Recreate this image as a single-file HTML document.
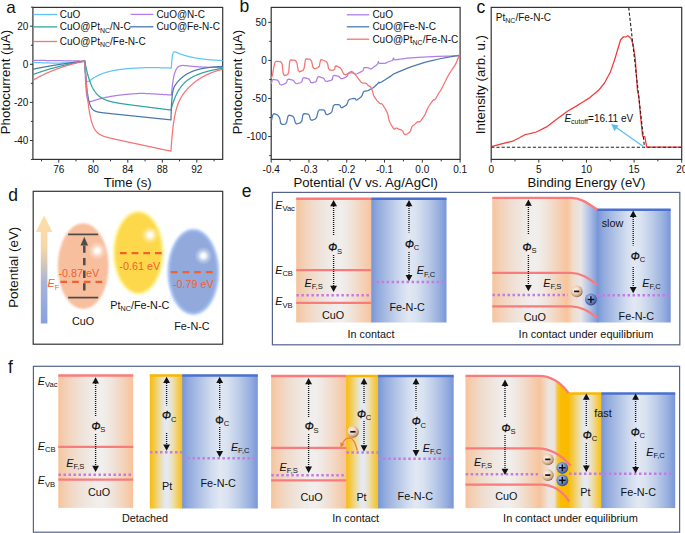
<!DOCTYPE html>
<html><head><meta charset="utf-8"><style>
html,body{margin:0;padding:0;background:#fff;}
svg{display:block;}
text{font-family:"Liberation Sans", sans-serif;}
</style></head><body>
<svg width="685" height="533" viewBox="0 0 685 533" fill="#111">
<rect width="685" height="533" fill="#fff"/>
<defs>
<linearGradient id="gCuO" x1="0" x2="1" y1="0" y2="0"><stop offset="0" stop-color="#f6c39b"/><stop offset="0.07" stop-color="#f4cdae"/><stop offset="0.2" stop-color="#f1dac9"/><stop offset="0.35" stop-color="#efe5dd"/><stop offset="0.5" stop-color="#f0edeb"/><stop offset="0.58" stop-color="#f1efee"/><stop offset="0.7" stop-color="#f0e6de"/><stop offset="0.82" stop-color="#f2d9c5"/><stop offset="0.93" stop-color="#f6cbab"/><stop offset="1" stop-color="#f8c39a"/></linearGradient>
<linearGradient id="gFe" x1="0" x2="1" y1="0" y2="0"><stop offset="0" stop-color="#7596d8"/><stop offset="0.08" stop-color="#90a9dd"/><stop offset="0.25" stop-color="#b4c5e6"/><stop offset="0.4" stop-color="#d2ddef"/><stop offset="0.5" stop-color="#e2e8f3"/><stop offset="0.6" stop-color="#d8e2f0"/><stop offset="0.75" stop-color="#bccbe8"/><stop offset="0.9" stop-color="#98afdf"/><stop offset="1" stop-color="#7896d8"/></linearGradient>
<linearGradient id="gPt" x1="0" x2="1" y1="0" y2="0"><stop offset="0" stop-color="#f9bc0c"/><stop offset="0.15" stop-color="#f3cb50"/><stop offset="0.3" stop-color="#ecdca0"/><stop offset="0.45" stop-color="#e5e8ee"/><stop offset="0.55" stop-color="#e5e9f1"/><stop offset="0.7" stop-color="#ecdfb0"/><stop offset="0.85" stop-color="#f4cd5a"/><stop offset="1" stop-color="#f9bd0e"/></linearGradient>
<linearGradient id="gTrFe" x1="0" x2="1" y1="0" y2="0"><stop offset="0" stop-color="#f8c39a"/><stop offset="0.2" stop-color="#f0dccc"/><stop offset="0.45" stop-color="#e8e6e6"/><stop offset="0.7" stop-color="#b4c4e6"/><stop offset="1" stop-color="#7596d8"/></linearGradient>
<linearGradient id="gTrPt" x1="0" x2="1" y1="0" y2="0"><stop offset="0" stop-color="#f8c39a"/><stop offset="0.33" stop-color="#ebe7e4"/><stop offset="0.5" stop-color="#ece3d6"/><stop offset="0.6" stop-color="#f8c63a"/><stop offset="0.72" stop-color="#fabc00"/><stop offset="1" stop-color="#f9b900"/></linearGradient>
<linearGradient id="gArrow" x1="0" x2="0" y1="0" y2="1"><stop offset="0" stop-color="#fedfa8"/><stop offset="0.3" stop-color="#f6d7a9"/><stop offset="0.47" stop-color="#cdc5bd"/><stop offset="0.62" stop-color="#a8b5d8"/><stop offset="1" stop-color="#87a1de"/></linearGradient>
<radialGradient id="gMinus" cx="0.4" cy="0.38" r="0.64"><stop offset="0" stop-color="#fdf4ec"/><stop offset="0.5" stop-color="#efd3b9"/><stop offset="0.85" stop-color="#c29a7a"/><stop offset="1" stop-color="#7a5a48"/></radialGradient>
<radialGradient id="gPlus" cx="0.4" cy="0.38" r="0.64"><stop offset="0" stop-color="#bccdf2"/><stop offset="0.5" stop-color="#7591d2"/><stop offset="0.85" stop-color="#4a64a8"/><stop offset="1" stop-color="#2a3a66"/></radialGradient>
<radialGradient id="gHi" cx="0.5" cy="0.5" r="0.5"><stop offset="0" stop-color="#fff" stop-opacity="1"/><stop offset="0.25" stop-color="#fff" stop-opacity="0.9"/><stop offset="0.6" stop-color="#fff" stop-opacity="0.35"/><stop offset="1" stop-color="#fff" stop-opacity="0"/></radialGradient>
<filter id="fBlur" x="-20%" y="-20%" width="140%" height="140%"><feGaussianBlur stdDeviation="1.1"/></filter>
<filter id="fBlur2" x="-20%" y="-20%" width="140%" height="140%"><feGaussianBlur stdDeviation="0.8"/></filter>
<radialGradient id="gEllO" cx="0.5" cy="0.5" r="0.5"><stop offset="0.85" stop-color="#f8bd9d"/><stop offset="1" stop-color="#f8bd9d" stop-opacity="0"/></radialGradient>
<radialGradient id="gEllY" cx="0.5" cy="0.5" r="0.5"><stop offset="0.88" stop-color="#ffdc52"/><stop offset="0.93" stop-color="#fff28c"/><stop offset="1" stop-color="#fff8b0" stop-opacity="0"/></radialGradient>
<radialGradient id="gEllB" cx="0.5" cy="0.5" r="0.5"><stop offset="0.88" stop-color="#93aadd"/><stop offset="0.94" stop-color="#a6c0f2"/><stop offset="1" stop-color="#b0c8f5" stop-opacity="0"/></radialGradient>
</defs>
<text x="8.2" y="200.5" font-size="17.5">d</text>
<rect x="33.2" y="191.3" width="189.5" height="152.9" fill="none" stroke="#333" stroke-width="1.2"/>
<text transform="translate(18.2,267.3) rotate(-90)" font-size="13.4" text-anchor="middle">Potential (eV)</text>
<path d="M44.1 215.2 L52.3 232 L47.4 232 L47.4 323.6 L40.8 323.6 L40.8 232 L35.9 232 Z" fill="url(#gArrow)"/>
<ellipse cx="83.2" cy="266.1" rx="25.4" ry="42.9" fill="#f8bf9f" filter="url(#fBlur)"/>
<ellipse cx="97.2" cy="250.8" rx="9" ry="9" fill="url(#gHi)"/>
<ellipse cx="138.3" cy="252.6" rx="25.7" ry="42.1" fill="#fff6a4" filter="url(#fBlur2)"/>
<ellipse cx="138.3" cy="252.6" rx="23.4" ry="39.8" fill="#fdd84c" filter="url(#fBlur2)"/>
<ellipse cx="150" cy="235" rx="9" ry="9" fill="url(#gHi)"/>
<ellipse cx="193.3" cy="271.9" rx="25.9" ry="43.1" fill="#abc5f8" filter="url(#fBlur2)"/>
<ellipse cx="193.3" cy="271.9" rx="23.6" ry="40.8" fill="#92a9dc" filter="url(#fBlur2)"/>
<ellipse cx="203.4" cy="255.8" rx="9" ry="9" fill="url(#gHi)"/>
<line x1="68.1" y1="234.4" x2="98.2" y2="234.4" stroke="#4a4a4a" stroke-width="1.7"/>
<line x1="68.1" y1="297.6" x2="98.2" y2="297.6" stroke="#4a4a4a" stroke-width="1.7"/>
<line x1="84.3" y1="290.5" x2="84.3" y2="244" stroke="#4d4d4d" stroke-width="2.5" stroke-dasharray="7.3 5.3"/>
<path d="M84.3 236.8 L88.1 245.4 L80.5 245.4 Z" fill="#4d4d4d"/>
<line x1="60.4" y1="281.9" x2="102.4" y2="281.9" stroke="#f2602f" stroke-width="2.3" stroke-dasharray="6.7 5"/>
<line x1="119.9" y1="253.2" x2="162.3" y2="253.2" stroke="#f2602f" stroke-width="2.3" stroke-dasharray="6.7 5"/>
<line x1="170.8" y1="272.1" x2="212.6" y2="272.1" stroke="#f2602f" stroke-width="2.3" stroke-dasharray="6.7 5"/>
<text x="58.5" y="277.4" font-size="10.8" fill="#f2602f">-0.87 eV</text>
<text x="119.3" y="269.5" font-size="10.8" fill="#f2602f">-0.61 eV</text>
<text x="173" y="288" font-size="10.8" fill="#f2602f">-0.79 eV</text>
<text x="47.6" y="287.4" font-size="10.8" fill="#f2602f" text-anchor="start"><tspan font-style="italic">E</tspan><tspan font-size="7.6" dy="2.4">F</tspan></text>
<text x="72" y="324.5" font-size="10.8" fill="#111" text-anchor="start">CuO</text>
<text x="110.3" y="309" font-size="10.8" fill="#111">Pt<tspan font-size="7.2" dy="2.4">NC</tspan><tspan dy="-2.4">/Fe-N-C</tspan></text>
<text x="174.2" y="330" font-size="10.8" fill="#111" text-anchor="start">Fe-N-C</text>
<text x="241.8" y="196.8" font-size="17.5">e</text>
<rect x="272.4" y="192.4" width="407.4" height="152.4" fill="none" stroke="#55638c" stroke-width="1.2"/>
<rect x="296.2" y="198.5" width="75.8" height="124" fill="url(#gCuO)"/>
<rect x="371.3" y="198.5" width="75.2" height="124" fill="url(#gFe)"/>
<line x1="296.2" y1="198.7" x2="371.3" y2="198.7" stroke="#fa7b7b" stroke-width="2.5"/>
<line x1="371.3" y1="198.7" x2="446.5" y2="198.7" stroke="#4a70d0" stroke-width="2.5"/>
<line x1="296.2" y1="270.2" x2="371.3" y2="270.2" stroke="#fa7b7b" stroke-width="2.3"/>
<line x1="296.2" y1="302.9" x2="371.3" y2="302.9" stroke="#fa7b7b" stroke-width="2.3"/>
<line x1="296.4" y1="295.3" x2="371" y2="295.3" stroke="#c57ce2" stroke-width="2.5" stroke-dasharray="2.5 2.5"/>
<line x1="371.6" y1="282" x2="444" y2="282" stroke="#c57ce2" stroke-width="2.5" stroke-dasharray="2.5 2.5"/>
<path d="M333.6 199.9 L337 206.2 L330.2 206.2 Z" fill="#111"/>
<line x1="333.6" y1="206" x2="333.6" y2="235.3" stroke="#111" stroke-width="1.35" stroke-dasharray="1 1"/>
<line x1="333.6" y1="255" x2="333.6" y2="286" stroke="#111" stroke-width="1.35" stroke-dasharray="1 1"/>
<path d="M333.6 292 L337 285.7 L330.2 285.7 Z" fill="#111"/>
<text x="328.2" y="251.2" font-size="10.6" fill="#111"><tspan font-style="italic" stroke="#111" stroke-width="0.35">Φ</tspan><tspan font-size="7.6" dy="2.3">S</tspan></text>
<path d="M409 199.9 L412.4 206.2 L405.6 206.2 Z" fill="#111"/>
<line x1="409" y1="206" x2="409" y2="232.5" stroke="#111" stroke-width="1.35" stroke-dasharray="1 1"/>
<line x1="409" y1="252" x2="409" y2="275.2" stroke="#111" stroke-width="1.35" stroke-dasharray="1 1"/>
<path d="M409 281.2 L412.4 274.9 L405.6 274.9 Z" fill="#111"/>
<text x="404.9" y="247.5" font-size="10.6" fill="#111"><tspan font-style="italic" stroke="#111" stroke-width="0.35">Φ</tspan><tspan font-size="7.6" dy="2.3">C</tspan></text>
<text x="275.2" y="209" font-size="10.8" fill="#111" text-anchor="start"><tspan font-style="italic">E</tspan><tspan font-size="7.6" dy="2.4">Vac</tspan></text>
<text x="275.2" y="273.8" font-size="10.8" fill="#111" text-anchor="start"><tspan font-style="italic">E</tspan><tspan font-size="7.6" dy="2.4">CB</tspan></text>
<text x="275.2" y="305.3" font-size="10.8" fill="#111" text-anchor="start"><tspan font-style="italic">E</tspan><tspan font-size="7.6" dy="2.4">VB</tspan></text>
<text x="304.6" y="286.9" font-size="10.8" fill="#111" text-anchor="start"><tspan font-style="italic">E</tspan><tspan font-size="7.6" dy="2.4">F,S</tspan></text>
<text x="416.7" y="274.1" font-size="10.8" fill="#111" text-anchor="start"><tspan font-style="italic">E</tspan><tspan font-size="7.6" dy="2.4">F,C</tspan></text>
<text x="321.9" y="318.6" font-size="10.8" fill="#111" text-anchor="start">CuO</text>
<text x="389.4" y="310.6" font-size="10.8" fill="#111" text-anchor="start">Fe-N-C</text>
<text x="347.6" y="337.7" font-size="10.8" fill="#111" text-anchor="start">In contact</text>
<rect x="492.3" y="197.9" width="75" height="124.6" fill="url(#gCuO)"/>
<path d="M566.8 197.9 L571.5 197.9 C582 197.9 590 205 597.3 209.7 L598.3 209.7 L598.3 322.5 L566.8 322.5 Z" fill="url(#gTrFe)"/>
<rect x="597.3" y="209.5" width="73.4" height="113" fill="url(#gFe)"/>
<path d="M492.3 197.9 L571.5 197.9 C582 197.9 590 205 597.3 209.7" fill="none" stroke="#fa7b7b" stroke-width="2.4"/>
<line x1="597.3" y1="209.7" x2="670.7" y2="209.7" stroke="#4a70d0" stroke-width="2.5"/>
<path d="M492.3 272.8 L571 272.8 C582 272.8 590 279.5 597 284.6" fill="none" stroke="#fa7b7b" stroke-width="2.3"/>
<path d="M492.3 306.3 L571 306.3 C582 306.3 590 312.5 597 317.6" fill="none" stroke="#fa7b7b" stroke-width="2.3"/>
<line x1="492.5" y1="294.9" x2="568" y2="294.9" stroke="#c57ce2" stroke-width="2.5" stroke-dasharray="2.5 2.5"/>
<line x1="597.5" y1="295.3" x2="670" y2="295.3" stroke="#c57ce2" stroke-width="2.5" stroke-dasharray="2.5 2.5"/>
<circle cx="576.7" cy="291.4" r="5.9" fill="url(#gMinus)"/><line x1="574.1" y1="291.4" x2="579.3" y2="291.4" stroke="#111" stroke-width="1.7"/>
<circle cx="590.9" cy="299.5" r="5.9" fill="url(#gPlus)"/><line x1="587.6" y1="299.5" x2="594.2" y2="299.5" stroke="#111" stroke-width="1.5"/><line x1="590.9" y1="296.2" x2="590.9" y2="302.8" stroke="#111" stroke-width="1.5"/>
<path d="M528.4 199.4 L531.8 205.7 L525 205.7 Z" fill="#111"/>
<line x1="528.4" y1="205" x2="528.4" y2="234" stroke="#111" stroke-width="1.35" stroke-dasharray="1 1"/>
<line x1="528.4" y1="255" x2="528.4" y2="285.2" stroke="#111" stroke-width="1.35" stroke-dasharray="1 1"/>
<path d="M528.4 291.2 L531.8 284.9 L525 284.9 Z" fill="#111"/>
<text x="522.6" y="250.8" font-size="10.6" fill="#111"><tspan font-style="italic" stroke="#111" stroke-width="0.35">Φ</tspan><tspan font-size="7.6" dy="2.3">S</tspan></text>
<path d="M633.2 210.6 L636.6 216.9 L629.8 216.9 Z" fill="#111"/>
<line x1="633.2" y1="217" x2="633.2" y2="245.6" stroke="#111" stroke-width="1.35" stroke-dasharray="1 1"/>
<line x1="633.2" y1="267" x2="633.2" y2="287.2" stroke="#111" stroke-width="1.35" stroke-dasharray="1 1"/>
<path d="M633.2 293.2 L636.6 286.9 L629.8 286.9 Z" fill="#111"/>
<text x="630.8" y="259.6" font-size="10.6" fill="#111"><tspan font-style="italic" stroke="#111" stroke-width="0.35">Φ</tspan><tspan font-size="7.6" dy="2.3">C</tspan></text>
<text x="601.7" y="226.7" font-size="10.8" fill="#111" text-anchor="start">slow</text>
<text x="543.2" y="286.8" font-size="10.8" fill="#111" text-anchor="start"><tspan font-style="italic">E</tspan><tspan font-size="7.6" dy="2.4">F,S</tspan></text>
<text x="642.2" y="286.9" font-size="10.8" fill="#111" text-anchor="start"><tspan font-style="italic">E</tspan><tspan font-size="7.6" dy="2.4">F,C</tspan></text>
<text x="523.7" y="321.2" font-size="10.8" fill="#111" text-anchor="start">CuO</text>
<text x="618.6" y="319.6" font-size="10.8" fill="#111" text-anchor="start">Fe-N-C</text>
<text x="518.6" y="337.6" font-size="10.98" fill="#111" text-anchor="start">In contact under equilibrium</text>
<text x="8" y="372.5" font-size="17.5">f</text>
<rect x="33.4" y="366.3" width="646.2" height="165.9" fill="none" stroke="#55638c" stroke-width="1.2"/>
<rect x="58.3" y="375.4" width="74.9" height="132.5" fill="url(#gCuO)"/>
<rect x="149.8" y="374.8" width="33.2" height="133.7" fill="url(#gPt)"/>
<rect x="182.2" y="374.8" width="75.6" height="133.7" fill="url(#gFe)"/>
<line x1="58.3" y1="375.6" x2="133.2" y2="375.6" stroke="#fa7b7b" stroke-width="2.5"/>
<line x1="149.8" y1="375.6" x2="182.2" y2="375.6" stroke="#f9b800" stroke-width="2.5"/>
<line x1="182.2" y1="375.6" x2="257.8" y2="375.6" stroke="#4a70d0" stroke-width="2.5"/>
<line x1="58.3" y1="446.9" x2="133.2" y2="446.9" stroke="#fa7b7b" stroke-width="2.3"/>
<line x1="58.3" y1="479.7" x2="133.2" y2="479.7" stroke="#fa7b7b" stroke-width="2.3"/>
<line x1="58.5" y1="474.7" x2="133" y2="474.7" stroke="#c57ce2" stroke-width="2.5" stroke-dasharray="2.5 2.5"/>
<line x1="150" y1="452.2" x2="182" y2="452.2" stroke="#c57ce2" stroke-width="2.5" stroke-dasharray="2.5 2.5"/>
<line x1="182.4" y1="458.2" x2="256" y2="458.2" stroke="#c57ce2" stroke-width="2.5" stroke-dasharray="2.5 2.5"/>
<path d="M95.6 377.2 L99 383.5 L92.2 383.5 Z" fill="#111"/>
<line x1="95.6" y1="383" x2="95.6" y2="416.4" stroke="#111" stroke-width="1.35" stroke-dasharray="1 1"/>
<line x1="95.6" y1="434" x2="95.6" y2="466.1" stroke="#111" stroke-width="1.35" stroke-dasharray="1 1"/>
<path d="M95.6 472.1 L99 465.8 L92.2 465.8 Z" fill="#111"/>
<text x="91.4" y="429.7" font-size="10.6" fill="#111"><tspan font-style="italic" stroke="#111" stroke-width="0.35">Φ</tspan><tspan font-size="7.6" dy="2.3">S</tspan></text>
<path d="M166.6 376.8 L170 383.1 L163.2 383.1 Z" fill="#111"/>
<line x1="166.6" y1="383" x2="166.6" y2="405.6" stroke="#111" stroke-width="1.35" stroke-dasharray="1 1"/>
<line x1="166.6" y1="433" x2="166.6" y2="444.7" stroke="#111" stroke-width="1.35" stroke-dasharray="1 1"/>
<path d="M166.6 450.7 L170 444.4 L163.2 444.4 Z" fill="#111"/>
<text x="162.1" y="419.2" font-size="10.6" fill="#111"><tspan font-style="italic" stroke="#111" stroke-width="0.35">Φ</tspan><tspan font-size="7.6" dy="2.3">C</tspan></text>
<path d="M219.7 376.8 L223.1 383.1 L216.3 383.1 Z" fill="#111"/>
<line x1="219.7" y1="383" x2="219.7" y2="409.4" stroke="#111" stroke-width="1.35" stroke-dasharray="1 1"/>
<line x1="219.7" y1="427" x2="219.7" y2="451.2" stroke="#111" stroke-width="1.35" stroke-dasharray="1 1"/>
<path d="M219.7 457.2 L223.1 450.9 L216.3 450.9 Z" fill="#111"/>
<text x="215.2" y="423.5" font-size="10.6" fill="#111"><tspan stroke="#111" stroke-width="0.35">Φ</tspan><tspan font-size="7.6" dy="2.3">C</tspan></text>
<text x="37.8" y="384.8" font-size="10.8" fill="#111" text-anchor="start"><tspan font-style="italic">E</tspan><tspan font-size="7.6" dy="2.4">Vac</tspan></text>
<text x="37.8" y="449.9" font-size="10.8" fill="#111" text-anchor="start"><tspan font-style="italic">E</tspan><tspan font-size="7.6" dy="2.4">CB</tspan></text>
<text x="37.8" y="484.1" font-size="10.8" fill="#111" text-anchor="start"><tspan font-style="italic">E</tspan><tspan font-size="7.6" dy="2.4">VB</tspan></text>
<text x="66.2" y="466.8" font-size="10.8" fill="#111" text-anchor="start"><tspan font-style="italic">E</tspan><tspan font-size="7.6" dy="2.4">F,S</tspan></text>
<text x="230.9" y="450.7" font-size="10.8" fill="#111" text-anchor="start"><tspan font-style="italic">E</tspan><tspan font-size="7.6" dy="2.4">F,C</tspan></text>
<text x="88" y="495.6" font-size="10.8" fill="#111" text-anchor="start">CuO</text>
<text x="162" y="490.2" font-size="10.8" fill="#111" text-anchor="start">Pt</text>
<text x="200.5" y="486.6" font-size="10.8" fill="#111" text-anchor="start">Fe-N-C</text>
<text x="121.9" y="522" font-size="10.8" fill="#111" text-anchor="start">Detached</text>
<rect x="271.1" y="375.8" width="75.8" height="132.7" fill="url(#gCuO)"/>
<rect x="346.2" y="375.8" width="32.7" height="132.7" fill="url(#gPt)"/>
<rect x="378.1" y="375.8" width="75.6" height="132.7" fill="url(#gFe)"/>
<line x1="271.1" y1="376" x2="346.2" y2="376" stroke="#fa7b7b" stroke-width="2.5"/>
<line x1="346.2" y1="376" x2="378.1" y2="376" stroke="#f9b800" stroke-width="2.5"/>
<line x1="378.1" y1="376" x2="453.7" y2="376" stroke="#4a70d0" stroke-width="2.5"/>
<line x1="271.1" y1="447.9" x2="346.2" y2="447.9" stroke="#fa7b7b" stroke-width="2.3"/>
<line x1="271.1" y1="480.3" x2="346.2" y2="480.3" stroke="#fa7b7b" stroke-width="2.3"/>
<line x1="271.3" y1="475.3" x2="346" y2="475.3" stroke="#c57ce2" stroke-width="2.5" stroke-dasharray="2.5 2.5"/>
<line x1="346.4" y1="452.4" x2="378" y2="452.4" stroke="#c57ce2" stroke-width="2.5" stroke-dasharray="2.5 2.5"/>
<line x1="378.3" y1="458.8" x2="452" y2="458.8" stroke="#c57ce2" stroke-width="2.5" stroke-dasharray="2.5 2.5"/>
<path d="M308.6 377.9 L312 384.2 L305.2 384.2 Z" fill="#111"/>
<line x1="308.6" y1="384" x2="308.6" y2="417.1" stroke="#111" stroke-width="1.35" stroke-dasharray="1 1"/>
<line x1="308.6" y1="434" x2="308.6" y2="466.9" stroke="#111" stroke-width="1.35" stroke-dasharray="1 1"/>
<path d="M308.6 472.9 L312 466.6 L305.2 466.6 Z" fill="#111"/>
<text x="304.7" y="430.2" font-size="10.6" fill="#111"><tspan font-style="italic" stroke="#111" stroke-width="0.35">Φ</tspan><tspan font-size="7.6" dy="2.3">S</tspan></text>
<path d="M364 377.9 L367.4 384.2 L360.6 384.2 Z" fill="#111"/>
<line x1="364" y1="384" x2="364" y2="404.1" stroke="#111" stroke-width="1.35" stroke-dasharray="1 1"/>
<line x1="364" y1="421" x2="364" y2="445.6" stroke="#111" stroke-width="1.35" stroke-dasharray="1 1"/>
<path d="M364 451.6 L367.4 445.3 L360.6 445.3 Z" fill="#111"/>
<text x="356.9" y="417.8" font-size="10.6" fill="#111"><tspan font-style="italic" stroke="#111" stroke-width="0.35">Φ</tspan><tspan font-size="7.6" dy="2.3">C</tspan></text>
<path d="M416 377.9 L419.4 384.2 L412.6 384.2 Z" fill="#111"/>
<line x1="416" y1="384" x2="416" y2="410.3" stroke="#111" stroke-width="1.35" stroke-dasharray="1 1"/>
<line x1="416" y1="428" x2="416" y2="450.4" stroke="#111" stroke-width="1.35" stroke-dasharray="1 1"/>
<path d="M416 456.4 L419.4 450.1 L412.6 450.1 Z" fill="#111"/>
<text x="411.7" y="425.3" font-size="10.6" fill="#111"><tspan font-style="italic" stroke="#111" stroke-width="0.35">Φ</tspan><tspan font-size="7.6" dy="2.3">C</tspan></text>
<text x="279.6" y="470.9" font-size="10.8" fill="#111" text-anchor="start"><tspan font-style="italic">E</tspan><tspan font-size="7.6" dy="2.4">F,S</tspan></text>
<text x="422.8" y="451.8" font-size="10.8" fill="#111" text-anchor="start"><tspan font-style="italic">E</tspan><tspan font-size="7.6" dy="2.4">F,C</tspan></text>
<circle cx="352.9" cy="431.8" r="5.9" fill="url(#gMinus)"/><line x1="350.3" y1="431.8" x2="355.5" y2="431.8" stroke="#111" stroke-width="1.7"/>
<path d="M357.3 450.5 C356 445 353.5 438 349.5 437.8 C346 437.8 343.5 441 342.2 444.2" fill="none" stroke="#f0802e" stroke-width="1.3"/>
<path d="M340.6 447.6 L340.3 442.2 L344.6 444.6 Z" fill="#f0802e"/>
<text x="300.5" y="501" font-size="10.8" fill="#111" text-anchor="start">CuO</text>
<text x="356.4" y="501" font-size="10.8" fill="#111" text-anchor="start">Pt</text>
<text x="397.6" y="499.6" font-size="10.8" fill="#111" text-anchor="start">Fe-N-C</text>
<text x="332.3" y="522.4" font-size="10.8" fill="#111" text-anchor="start">In contact</text>
<rect x="465.5" y="375.8" width="74.5" height="132.3" fill="url(#gCuO)"/>
<path d="M539.5 375.8 L540 375.8 C552 375.8 562 384 568.6 393.3 L569.5 393.3 L569.5 508.1 L539.5 508.1 Z" fill="url(#gTrPt)"/>
<rect x="568.6" y="393.3" width="33.5" height="114.8" fill="url(#gPt)"/>
<rect x="601.3" y="393.3" width="73.9" height="114.8" fill="url(#gFe)"/>
<path d="M465.5 375.9 L538.5 375.9 C552 375.9 562 384 568.6 393.3" fill="none" stroke="#fa7b7b" stroke-width="2.4"/>
<line x1="568.6" y1="393.6" x2="601.3" y2="393.6" stroke="#f9b800" stroke-width="2.5"/>
<line x1="601.3" y1="393.6" x2="675.2" y2="393.6" stroke="#4a70d0" stroke-width="2.5"/>
<path d="M465.5 448.3 L537 448.3 C550 448.3 562 455.5 570.6 465.8" fill="none" stroke="#fa7b7b" stroke-width="2.3"/>
<path d="M465.5 484.7 L541 484.7 C553 484.7 563 492 569.3 501.6" fill="none" stroke="#fa7b7b" stroke-width="2.3"/>
<line x1="465.7" y1="474.3" x2="538" y2="474.3" stroke="#c57ce2" stroke-width="2.5" stroke-dasharray="2.5 2.5"/>
<line x1="569" y1="473.7" x2="673.3" y2="473.7" stroke="#c57ce2" stroke-width="2.5" stroke-dasharray="2.5 2.5"/>
<circle cx="547.8" cy="459.4" r="5.9" fill="url(#gMinus)"/><line x1="545.2" y1="459.4" x2="550.4" y2="459.4" stroke="#111" stroke-width="1.7"/>
<circle cx="547.8" cy="475.1" r="5.9" fill="url(#gMinus)"/><line x1="545.2" y1="475.1" x2="550.4" y2="475.1" stroke="#111" stroke-width="1.7"/>
<circle cx="562.3" cy="467.8" r="5.9" fill="url(#gPlus)"/><line x1="559" y1="467.8" x2="565.6" y2="467.8" stroke="#111" stroke-width="1.5"/><line x1="562.3" y1="464.5" x2="562.3" y2="471.1" stroke="#111" stroke-width="1.5"/>
<circle cx="562.3" cy="480.3" r="5.9" fill="url(#gPlus)"/><line x1="559" y1="480.3" x2="565.6" y2="480.3" stroke="#111" stroke-width="1.5"/><line x1="562.3" y1="477" x2="562.3" y2="483.6" stroke="#111" stroke-width="1.5"/>
<path d="M505 379.6 L508.4 385.9 L501.6 385.9 Z" fill="#111"/>
<line x1="505" y1="386" x2="505" y2="417.7" stroke="#111" stroke-width="1.35" stroke-dasharray="1 1"/>
<line x1="505" y1="435" x2="505" y2="469" stroke="#111" stroke-width="1.35" stroke-dasharray="1 1"/>
<path d="M505 475 L508.4 468.7 L501.6 468.7 Z" fill="#111"/>
<text x="501.5" y="431.6" font-size="10.6" fill="#111"><tspan font-style="italic" stroke="#111" stroke-width="0.35">Φ</tspan><tspan font-size="7.6" dy="2.3">S</tspan></text>
<path d="M586.3 393.4 L589.7 399.7 L582.9 399.7 Z" fill="#111"/>
<line x1="586.3" y1="399" x2="586.3" y2="427" stroke="#111" stroke-width="1.35" stroke-dasharray="1 1"/>
<line x1="586.3" y1="443" x2="586.3" y2="465.9" stroke="#111" stroke-width="1.35" stroke-dasharray="1 1"/>
<path d="M586.3 471.9 L589.7 465.6 L582.9 465.6 Z" fill="#111"/>
<text x="582.8" y="438.6" font-size="10.6" fill="#111"><tspan font-style="italic" stroke="#111" stroke-width="0.35">Φ</tspan><tspan font-size="7.6" dy="2.3">C</tspan></text>
<path d="M635.6 393.4 L639 399.7 L632.2 399.7 Z" fill="#111"/>
<line x1="635.6" y1="399" x2="635.6" y2="422.4" stroke="#111" stroke-width="1.35" stroke-dasharray="1 1"/>
<line x1="635.6" y1="442" x2="635.6" y2="467.3" stroke="#111" stroke-width="1.35" stroke-dasharray="1 1"/>
<path d="M635.6 473.3 L639 467 L632.2 467 Z" fill="#111"/>
<text x="630.7" y="435.8" font-size="10.6" fill="#111"><tspan font-style="italic" stroke="#111" stroke-width="0.35">Φ</tspan><tspan font-size="7.6" dy="2.3">C</tspan></text>
<text x="594.3" y="417" font-size="10.8" fill="#111" text-anchor="start">fast</text>
<text x="474" y="465.9" font-size="10.8" fill="#111" text-anchor="start"><tspan font-style="italic">E</tspan><tspan font-size="7.6" dy="2.4">F,S</tspan></text>
<text x="646.2" y="455.8" font-size="10.8" fill="#111" text-anchor="start"><tspan font-style="italic">E</tspan><tspan font-size="7.6" dy="2.4">F,C</tspan></text>
<text x="495.3" y="499.6" font-size="10.8" fill="#111" text-anchor="start">CuO</text>
<text x="580.2" y="495.6" font-size="10.8" fill="#111" text-anchor="start">Pt</text>
<text x="620.6" y="496.2" font-size="10.8" fill="#111" text-anchor="start">Fe-N-C</text>
<text x="503.1" y="521.6" font-size="10.98" fill="#111" text-anchor="start">In contact under equilibrium</text>
<text x="6.2" y="12.8" font-size="17">a</text>
<rect x="32.9" y="7.4" width="189.8" height="152" fill="none" stroke="#333" stroke-width="1.2"/>
<line x1="58.78" y1="159.4" x2="58.78" y2="162.6" stroke="#333" stroke-width="1"/>
<line x1="93.29" y1="159.4" x2="93.29" y2="162.6" stroke="#333" stroke-width="1"/>
<line x1="127.8" y1="159.4" x2="127.8" y2="162.6" stroke="#333" stroke-width="1"/>
<line x1="162.31" y1="159.4" x2="162.31" y2="162.6" stroke="#333" stroke-width="1"/>
<line x1="196.82" y1="159.4" x2="196.82" y2="162.6" stroke="#333" stroke-width="1"/>
<line x1="41.53" y1="159.4" x2="41.53" y2="161.4" stroke="#333" stroke-width="1"/>
<line x1="76.04" y1="159.4" x2="76.04" y2="161.4" stroke="#333" stroke-width="1"/>
<line x1="110.55" y1="159.4" x2="110.55" y2="161.4" stroke="#333" stroke-width="1"/>
<line x1="145.05" y1="159.4" x2="145.05" y2="161.4" stroke="#333" stroke-width="1"/>
<line x1="179.56" y1="159.4" x2="179.56" y2="161.4" stroke="#333" stroke-width="1"/>
<line x1="214.07" y1="159.4" x2="214.07" y2="161.4" stroke="#333" stroke-width="1"/>
<text x="58.78" y="172.8" font-size="10" text-anchor="middle">76</text>
<text x="93.29" y="172.8" font-size="10" text-anchor="middle">80</text>
<text x="127.8" y="172.8" font-size="10" text-anchor="middle">84</text>
<text x="162.31" y="172.8" font-size="10" text-anchor="middle">88</text>
<text x="196.82" y="172.8" font-size="10" text-anchor="middle">92</text>
<line x1="32.9" y1="140.5" x2="29.9" y2="140.5" stroke="#333" stroke-width="1"/>
<line x1="32.9" y1="102.4" x2="29.9" y2="102.4" stroke="#333" stroke-width="1"/>
<line x1="32.9" y1="64.3" x2="29.9" y2="64.3" stroke="#333" stroke-width="1"/>
<line x1="32.9" y1="26.2" x2="29.9" y2="26.2" stroke="#333" stroke-width="1"/>
<line x1="32.9" y1="159.55" x2="30.9" y2="159.55" stroke="#333" stroke-width="1"/>
<line x1="32.9" y1="121.45" x2="30.9" y2="121.45" stroke="#333" stroke-width="1"/>
<line x1="32.9" y1="83.35" x2="30.9" y2="83.35" stroke="#333" stroke-width="1"/>
<line x1="32.9" y1="45.25" x2="30.9" y2="45.25" stroke="#333" stroke-width="1"/>
<line x1="32.9" y1="7.15" x2="30.9" y2="7.15" stroke="#333" stroke-width="1"/>
<text x="28.4" y="144.1" font-size="10" text-anchor="end">-40</text>
<text x="28.4" y="106" font-size="10" text-anchor="end">-20</text>
<text x="28.4" y="67.9" font-size="10" text-anchor="end">0</text>
<text x="28.4" y="29.8" font-size="10" text-anchor="end">20</text>
<text x="127.8" y="186.6" font-size="13.2" text-anchor="middle">Time (s)</text>
<text transform="translate(10.1,82) rotate(-90)" font-size="13.2" text-anchor="middle">Photocurrent (μA)</text>
<g fill="none" stroke-width="1.25" stroke-linejoin="round">
<path d="M32.9 62.39 L33.07 62.4 L33.25 62.41 L33.42 62.42 L33.59 62.43 L33.76 62.43 L33.94 62.44 L34.11 62.45 L34.28 62.46 L34.45 62.46 L34.63 62.47 L34.8 62.48 L34.97 62.49 L35.14 62.49 L35.32 62.5 L35.49 62.51 L35.66 62.51 L35.83 62.52 L36.01 62.53 L36.18 62.54 L36.35 62.54 L36.52 62.55 L36.7 62.56 L36.87 62.57 L37.04 62.57 L37.21 62.58 L37.39 62.59 L37.56 62.6 L37.73 62.6 L37.9 62.61 L38.08 62.62 L38.25 62.62 L38.42 62.63 L38.59 62.64 L38.77 62.64 L38.94 62.65 L39.11 62.66 L39.28 62.67 L39.46 62.67 L39.63 62.68 L39.8 62.69 L39.97 62.69 L40.15 62.7 L40.32 62.71 L40.49 62.71 L40.66 62.72 L40.84 62.73 L41.01 62.73 L41.18 62.74 L41.35 62.74 L41.53 62.75 L41.7 62.76 L41.87 62.76 L42.04 62.77 L42.22 62.78 L42.39 62.78 L42.56 62.79 L42.74 62.79 L42.91 62.8 L43.08 62.81 L43.25 62.81 L43.43 62.82 L43.6 62.82 L43.77 62.83 L43.94 62.84 L44.12 62.84 L44.29 62.85 L44.46 62.85 L44.63 62.86 L44.81 62.86 L44.98 62.87 L45.15 62.87 L45.32 62.88 L45.5 62.88 L45.67 62.89 L45.84 62.89 L46.01 62.9 L46.19 62.9 L46.36 62.91 L46.53 62.91 L46.7 62.92 L46.88 62.92 L47.05 62.93 L47.22 62.93 L47.39 62.93 L47.57 62.94 L47.74 62.94 L47.91 62.95 L48.08 62.95 L48.26 62.95 L48.43 62.96 L48.6 62.96 L48.77 62.97 L48.95 62.97 L49.12 62.97 L49.29 62.98 L49.46 62.98 L49.64 62.98 L49.81 62.99 L49.98 62.99 L50.15 62.99 L50.33 63 L50.5 63 L50.67 63 L50.84 63 L51.02 63.01 L51.19 63.01 L51.36 63.01 L51.53 63.01 L51.71 63.02 L51.88 63.02 L52.05 63.02 L52.23 63.02 L52.4 63.02 L52.57 63.03 L52.74 63.03 L52.92 63.03 L53.09 63.03 L53.26 63.03 L53.43 63.03 L53.61 63.04 L53.78 63.04 L53.95 63.04 L54.12 63.04 L54.3 63.04 L54.47 63.04 L54.64 63.04 L54.81 63.04 L54.99 63.04 L55.16 63.04 L55.33 63.04 L55.5 63.04 L55.68 63.04 L55.85 63.04 L56.02 63.04 L56.19 63.04 L56.37 63.04 L56.54 63.04 L56.71 63.04 L56.88 63.04 L57.06 63.04 L57.23 63.04 L57.4 63.04 L57.57 63.04 L57.75 63.04 L57.92 63.04 L58.09 63.03 L58.26 63.03 L58.44 63.03 L58.61 63.03 L58.78 63.03 L58.95 63.03 L59.13 63.02 L59.3 63.02 L59.47 63.02 L59.64 63.02 L59.82 63.02 L59.99 63.01 L60.16 63.01 L60.33 63.01 L60.51 63.01 L60.68 63 L60.85 63 L61.02 63 L61.2 62.99 L61.37 62.99 L61.54 62.99 L61.72 62.98 L61.89 62.98 L62.06 62.98 L62.23 62.97 L62.41 62.97 L62.58 62.96 L62.75 62.96 L62.92 62.96 L63.1 62.95 L63.27 62.95 L63.44 62.94 L63.61 62.94 L63.79 62.93 L63.96 62.93 L64.13 62.92 L64.3 62.92 L64.48 62.91 L64.65 62.91 L64.82 62.9 L64.99 62.9 L65.17 62.89 L65.34 62.88 L65.51 62.88 L65.68 62.87 L65.86 62.87 L66.03 62.86 L66.2 62.85 L66.37 62.85 L66.55 62.84 L66.72 62.83 L66.89 62.83 L67.06 62.82 L67.24 62.81 L67.41 62.81 L67.58 62.8 L67.75 62.79 L67.93 62.78 L68.1 62.78 L68.27 62.77 L68.44 62.76 L68.62 62.75 L68.79 62.75 L68.96 62.74 L69.13 62.73 L69.31 62.72 L69.48 62.71 L69.65 62.7 L69.82 62.7 L70 62.69 L70.17 62.68 L70.34 62.67 L70.51 62.66 L70.69 62.65 L70.86 62.64 L71.03 62.63 L71.21 62.62 L71.38 62.62 L71.55 62.61 L71.72 62.6 L71.9 62.59 L72.07 62.58 L72.24 62.57 L72.41 62.56 L72.59 62.55 L72.76 62.54 L72.93 62.53 L73.1 62.52 L73.28 62.51 L73.45 62.5 L73.62 62.48 L73.79 62.47 L73.97 62.46 L74.14 62.45 L74.31 62.44 L74.48 62.43 L74.66 62.42 L74.83 62.41 L75 62.4 L75.17 62.38 L75.35 62.37 L75.52 62.36 L75.69 62.35 L75.86 62.34 L76.04 62.33 L76.21 62.31 L76.38 62.3 L76.55 62.29 L76.73 62.28 L76.9 62.27 L77.07 62.25 L77.24 62.24 L77.42 62.23 L77.59 62.22 L77.76 62.2 L77.93 62.19 L78.11 62.18 L78.28 62.16 L78.45 62.15 L78.62 62.14 L78.8 62.13 L78.97 62.11 L79.14 62.1 L79.31 62.09 L79.49 62.07 L79.66 62.06 L79.83 62.05 L80 62.03 L80.18 62.02 L80.35 62 L80.52 61.99 L80.7 61.98 L80.87 61.96 L81.04 61.95 L81.21 61.93 L81.39 61.92 L81.56 61.91 L81.73 61.89 L81.9 61.88 L82.08 61.86 L82.25 61.85 L82.42 61.83 L82.59 61.82 L82.77 61.8 L82.94 61.79 L83.11 61.78 L83.28 61.76 L83.46 61.75 L83.63 61.73 L83.8 61.72 L83.97 61.7 L84.15 61.69 L84.32 61.67 L84.49 61.66 L84.66 61.64 L84.84 61.06 L85.01 65.24 L85.18 68.64 L85.35 71.39 L85.53 73.61 L85.7 75.4 L85.87 76.83 L86.04 77.98 L86.22 78.89 L86.39 79.6 L86.56 80.16 L86.73 80.59 L86.91 80.91 L87.08 81.15 L87.25 81.32 L87.42 81.42 L87.6 81.49 L87.77 81.51 L87.94 81.51 L88.11 81.48 L88.29 81.43 L88.46 81.36 L88.63 81.28 L88.8 81.19 L88.98 81.09 L89.15 80.99 L89.32 80.88 L89.49 80.77 L89.67 80.65 L89.84 80.53 L90.01 80.41 L90.19 80.29 L90.36 80.17 L90.53 80.04 L90.7 79.92 L90.88 79.8 L91.05 79.68 L91.22 79.55 L91.39 79.43 L91.57 79.31 L91.74 79.19 L91.91 79.08 L92.08 78.96 L92.26 78.84 L92.43 78.73 L92.6 78.61 L92.77 78.5 L92.95 78.39 L93.12 78.27 L93.29 78.16 L93.46 78.05 L93.64 77.95 L93.81 77.84 L93.98 77.73 L94.15 77.63 L94.33 77.52 L94.5 77.42 L94.67 77.32 L94.84 77.22 L95.02 77.12 L95.19 77.02 L95.36 76.92 L95.53 76.82 L95.71 76.73 L95.88 76.63 L96.05 76.54 L96.22 76.44 L96.4 76.35 L96.57 76.26 L96.74 76.17 L96.91 76.08 L97.09 75.99 L97.26 75.9 L97.43 75.82 L97.6 75.73 L97.78 75.65 L97.95 75.56 L98.12 75.48 L98.29 75.39 L98.47 75.31 L98.64 75.23 L98.81 75.15 L98.98 75.07 L99.16 74.99 L99.33 74.91 L99.5 74.84 L99.68 74.76 L99.85 74.69 L100.02 74.61 L100.19 74.54 L100.37 74.46 L100.54 74.39 L100.71 74.32 L100.88 74.25 L101.06 74.18 L101.23 74.11 L101.4 74.04 L101.57 73.97 L101.75 73.9 L101.92 73.83 L102.09 73.77 L102.26 73.7 L102.44 73.64 L102.61 73.57 L102.78 73.51 L102.95 73.45 L103.13 73.38 L103.3 73.32 L103.47 73.26 L103.64 73.2 L103.82 73.14 L103.99 73.08 L104.16 73.02 L104.33 72.96 L104.51 72.9 L104.68 72.85 L104.85 72.79 L105.02 72.73 L105.2 72.68 L105.37 72.62 L105.54 72.57 L105.71 72.52 L105.89 72.46 L106.06 72.41 L106.23 72.36 L106.4 72.31 L106.58 72.25 L106.75 72.2 L106.92 72.15 L107.09 72.1 L107.27 72.05 L107.44 72.01 L107.61 71.96 L107.78 71.91 L107.96 71.86 L108.13 71.82 L108.3 71.77 L108.47 71.72 L108.65 71.68 L108.82 71.63 L108.99 71.59 L109.17 71.54 L109.34 71.5 L109.51 71.46 L109.68 71.41 L109.86 71.37 L110.03 71.33 L110.2 71.29 L110.37 71.25 L110.55 71.21 L110.72 71.17 L110.89 71.13 L111.06 71.09 L111.24 71.05 L111.41 71.01 L111.58 70.97 L111.75 70.93 L111.93 70.9 L112.1 70.86 L112.27 70.82 L112.44 70.79 L112.62 70.75 L112.79 70.71 L112.96 70.68 L113.13 70.64 L113.31 70.61 L113.48 70.57 L113.65 70.54 L113.82 70.51 L114 70.47 L114.17 70.44 L114.34 70.41 L114.51 70.38 L114.69 70.34 L114.86 70.31 L115.03 70.28 L115.2 70.25 L115.38 70.22 L115.55 70.19 L115.72 70.16 L115.89 70.13 L116.07 70.1 L116.24 70.07 L116.41 70.04 L116.58 70.01 L116.76 69.98 L116.93 69.95 L117.1 69.93 L117.27 69.9 L117.45 69.87 L117.62 69.85 L117.79 69.82 L117.96 69.79 L118.14 69.77 L118.31 69.74 L118.48 69.71 L118.66 69.69 L118.83 69.66 L119 69.64 L119.17 69.61 L119.35 69.59 L119.52 69.57 L119.69 69.54 L119.86 69.52 L120.04 69.49 L120.21 69.47 L120.38 69.45 L120.55 69.42 L120.73 69.4 L120.9 69.38 L121.07 69.36 L121.24 69.34 L121.42 69.31 L121.59 69.29 L121.76 69.27 L121.93 69.25 L122.11 69.23 L122.28 69.21 L122.45 69.19 L122.62 69.17 L122.8 69.15 L122.97 69.13 L123.14 69.11 L123.31 69.09 L123.49 69.07 L123.66 69.05 L123.83 69.03 L124 69.01 L124.18 69 L124.35 68.98 L124.52 68.96 L124.69 68.94 L124.87 68.92 L125.04 68.91 L125.21 68.89 L125.38 68.87 L125.56 68.85 L125.73 68.84 L125.9 68.82 L126.07 68.8 L126.25 68.79 L126.42 68.77 L126.59 68.76 L126.76 68.74 L126.94 68.72 L127.11 68.71 L127.28 68.69 L127.45 68.68 L127.63 68.66 L127.8 68.65 L127.97 68.63 L128.15 68.62 L128.32 68.6 L128.49 68.59 L128.66 68.57 L128.84 68.56 L129.01 68.55 L129.18 68.53 L129.35 68.52 L129.53 68.51 L129.7 68.49 L129.87 68.48 L130.04 68.47 L130.22 68.45 L130.39 68.44 L130.56 68.43 L130.73 68.41 L130.91 68.4 L131.08 68.39 L131.25 68.38 L131.42 68.37 L131.6 68.35 L131.77 68.34 L131.94 68.33 L132.11 68.32 L132.29 68.31 L132.46 68.29 L132.63 68.28 L132.8 68.27 L132.98 68.26 L133.15 68.25 L133.32 68.24 L133.49 68.23 L133.67 68.22 L133.84 68.21 L134.01 68.2 L134.18 68.19 L134.36 68.18 L134.53 68.17 L134.7 68.16 L134.87 68.15 L135.05 68.14 L135.22 68.13 L135.39 68.12 L135.56 68.11 L135.74 68.1 L135.91 68.09 L136.08 68.08 L136.25 68.07 L136.43 68.06 L136.6 68.05 L136.77 68.04 L136.94 68.03 L137.12 68.03 L137.29 68.02 L137.46 68.01 L137.64 68 L137.81 67.99 L137.98 67.98 L138.15 67.98 L138.33 67.97 L138.5 67.96 L138.67 67.95 L138.84 67.94 L139.02 67.94 L139.19 67.93 L139.36 67.92 L139.53 67.91 L139.71 67.9 L139.88 67.9 L140.05 67.89 L140.22 67.88 L140.4 67.88 L140.57 67.87 L140.74 67.86 L140.91 67.85 L141.09 67.85 L141.26 67.84 L141.43 67.83 L141.6 67.83 L141.78 67.82 L141.95 67.81 L142.12 67.81 L142.29 67.8 L142.47 67.79 L142.64 67.79 L142.81 67.78 L142.98 67.78 L143.16 67.77 L143.33 67.76 L143.5 67.76 L143.67 67.75 L143.85 67.75 L144.02 67.74 L144.19 67.73 L144.36 67.73 L144.54 67.72 L144.71 67.72 L144.88 67.71 L145.05 67.71 L145.23 67.7 L145.4 67.7 L145.57 67.69 L145.74 67.69 L145.92 67.68 L146.09 67.68 L146.26 67.68 L146.43 67.67 L146.61 67.67 L146.78 67.67 L146.95 67.66 L147.13 67.66 L147.3 67.66 L147.47 67.66 L147.64 67.65 L147.82 67.65 L147.99 67.65 L148.16 67.65 L148.33 67.65 L148.51 67.64 L148.68 67.64 L148.85 67.64 L149.02 67.64 L149.2 67.64 L149.37 67.64 L149.54 67.64 L149.71 67.64 L149.89 67.64 L150.06 67.63 L150.23 67.63 L150.4 67.63 L150.58 67.63 L150.75 67.63 L150.92 67.63 L151.09 67.63 L151.27 67.63 L151.44 67.63 L151.61 67.63 L151.78 67.63 L151.96 67.63 L152.13 67.63 L152.3 67.63 L152.47 67.64 L152.65 67.64 L152.82 67.64 L152.99 67.64 L153.16 67.64 L153.34 67.64 L153.51 67.64 L153.68 67.64 L153.85 67.64 L154.03 67.64 L154.2 67.65 L154.37 67.65 L154.54 67.65 L154.72 67.65 L154.89 67.65 L155.06 67.65 L155.23 67.66 L155.41 67.66 L155.58 67.66 L155.75 67.66 L155.92 67.66 L156.1 67.67 L156.27 67.67 L156.44 67.67 L156.62 67.67 L156.79 67.68 L156.96 67.68 L157.13 67.68 L157.31 67.68 L157.48 67.69 L157.65 67.69 L157.82 67.69 L158 67.7 L158.17 67.7 L158.34 67.7 L158.51 67.71 L158.69 67.71 L158.86 67.71 L159.03 67.72 L159.2 67.72 L159.38 67.72 L159.55 67.73 L159.72 67.73 L159.89 67.73 L160.07 67.74 L160.24 67.74 L160.41 67.74 L160.58 67.75 L160.76 67.75 L160.93 67.76 L161.1 67.76 L161.27 67.76 L161.45 67.77 L161.62 67.77 L161.79 67.78 L161.96 67.78 L162.14 67.79 L162.31 67.79 L162.48 67.79 L162.65 67.8 L162.83 67.8 L163 67.81 L163.17 67.81 L163.34 67.82 L163.52 67.82 L163.69 67.83 L163.86 67.83 L164.03 67.84 L164.21 67.84 L164.38 67.85 L164.55 67.85 L164.72 67.86 L164.9 67.86 L165.07 67.87 L165.24 67.87 L165.41 67.88 L165.59 67.88 L165.76 67.89 L165.93 67.89 L166.11 67.9 L166.28 67.91 L166.45 67.91 L166.62 67.92 L166.8 67.92 L166.97 67.93 L167.14 67.93 L167.31 67.94 L167.49 67.95 L167.66 67.95 L167.83 67.96 L168 67.96 L168.18 67.97 L168.35 67.98 L168.52 67.98 L168.69 67.99 L168.87 67.99 L169.04 68 L169.21 68.01 L169.38 68.01 L169.56 68.02 L169.73 68.03 L169.9 68.03 L170.07 68.04 L170.25 68.05 L170.42 68.05 L170.59 68.06 L170.76 68.07 L170.94 68.07 L171.11 68.07 L171.28 68.07 L171.45 66.37 L171.63 63.45 L171.8 61.08 L171.97 59.15 L172.14 57.59 L172.32 56.33 L172.49 55.32 L172.66 54.5 L172.83 53.85 L173.01 53.34 L173.18 52.93 L173.35 52.62 L173.52 52.38 L173.7 52.19 L173.87 52.06 L174.04 51.97 L174.21 51.9 L174.39 51.87 L174.56 51.86 L174.73 51.86 L174.9 51.88 L175.08 51.91 L175.25 51.95 L175.42 52 L175.6 52.05 L175.77 52.11 L175.94 52.17 L176.11 52.23 L176.29 52.3 L176.46 52.37 L176.63 52.44 L176.8 52.51 L176.98 52.58 L177.15 52.65 L177.32 52.72 L177.49 52.8 L177.67 52.87 L177.84 52.94 L178.01 53.01 L178.18 53.08 L178.36 53.16 L178.53 53.23 L178.7 53.3 L178.87 53.37 L179.05 53.44 L179.22 53.5 L179.39 53.57 L179.56 53.64 L179.74 53.71 L179.91 53.77 L180.08 53.84 L180.25 53.91 L180.43 53.97 L180.6 54.04 L180.77 54.1 L180.94 54.16 L181.12 54.23 L181.29 54.29 L181.46 54.35 L181.63 54.41 L181.81 54.47 L181.98 54.53 L182.15 54.59 L182.32 54.65 L182.5 54.71 L182.67 54.77 L182.84 54.83 L183.01 54.89 L183.19 54.94 L183.36 55 L183.53 55.05 L183.7 55.11 L183.88 55.16 L184.05 55.22 L184.22 55.27 L184.39 55.33 L184.57 55.38 L184.74 55.43 L184.91 55.48 L185.09 55.53 L185.26 55.59 L185.43 55.64 L185.6 55.69 L185.78 55.74 L185.95 55.79 L186.12 55.84 L186.29 55.88 L186.47 55.93 L186.64 55.98 L186.81 56.03 L186.98 56.07 L187.16 56.12 L187.33 56.17 L187.5 56.21 L187.67 56.26 L187.85 56.3 L188.02 56.35 L188.19 56.39 L188.36 56.43 L188.54 56.48 L188.71 56.52 L188.88 56.56 L189.05 56.61 L189.23 56.65 L189.4 56.69 L189.57 56.73 L189.74 56.77 L189.92 56.81 L190.09 56.85 L190.26 56.89 L190.43 56.93 L190.61 56.97 L190.78 57.01 L190.95 57.05 L191.12 57.08 L191.3 57.12 L191.47 57.16 L191.64 57.2 L191.81 57.23 L191.99 57.27 L192.16 57.31 L192.33 57.34 L192.5 57.38 L192.68 57.41 L192.85 57.45 L193.02 57.48 L193.19 57.52 L193.37 57.55 L193.54 57.58 L193.71 57.62 L193.88 57.65 L194.06 57.68 L194.23 57.72 L194.4 57.75 L194.58 57.78 L194.75 57.81 L194.92 57.84 L195.09 57.87 L195.27 57.91 L195.44 57.94 L195.61 57.97 L195.78 58 L195.96 58.03 L196.13 58.06 L196.3 58.09 L196.47 58.11 L196.65 58.14 L196.82 58.17 L196.99 58.2 L197.16 58.23 L197.34 58.26 L197.51 58.28 L197.68 58.31 L197.85 58.34 L198.03 58.37 L198.2 58.39 L198.37 58.42 L198.54 58.44 L198.72 58.47 L198.89 58.5 L199.06 58.52 L199.23 58.55 L199.41 58.57 L199.58 58.6 L199.75 58.62 L199.92 58.65 L200.1 58.67 L200.27 58.69 L200.44 58.72 L200.61 58.74 L200.79 58.76 L200.96 58.79 L201.13 58.81 L201.3 58.83 L201.48 58.86 L201.65 58.88 L201.82 58.9 L201.99 58.92 L202.17 58.94 L202.34 58.97 L202.51 58.99 L202.68 59.01 L202.86 59.03 L203.03 59.05 L203.2 59.07 L203.37 59.09 L203.55 59.11 L203.72 59.13 L203.89 59.15 L204.07 59.17 L204.24 59.19 L204.41 59.21 L204.58 59.23 L204.76 59.25 L204.93 59.27 L205.1 59.29 L205.27 59.31 L205.45 59.33 L205.62 59.34 L205.79 59.36 L205.96 59.38 L206.14 59.4 L206.31 59.42 L206.48 59.43 L206.65 59.45 L206.83 59.47 L207 59.48 L207.17 59.5 L207.34 59.52 L207.52 59.53 L207.69 59.55 L207.86 59.57 L208.03 59.58 L208.21 59.6 L208.38 59.62 L208.55 59.63 L208.72 59.65 L208.9 59.66 L209.07 59.68 L209.24 59.69 L209.41 59.71 L209.59 59.72 L209.76 59.74 L209.93 59.75 L210.1 59.77 L210.28 59.78 L210.45 59.8 L210.62 59.81 L210.79 59.83 L210.97 59.84 L211.14 59.85 L211.31 59.87 L211.48 59.88 L211.66 59.89 L211.83 59.91 L212 59.92 L212.17 59.93 L212.35 59.95 L212.52 59.96 L212.69 59.97 L212.86 59.99 L213.04 60 L213.21 60.01 L213.38 60.02 L213.56 60.04 L213.73 60.05 L213.9 60.06 L214.07 60.07 L214.25 60.08 L214.42 60.1 L214.59 60.11 L214.76 60.12 L214.94 60.13 L215.11 60.14 L215.28 60.15 L215.45 60.16 L215.63 60.17 L215.8 60.19 L215.97 60.2 L216.14 60.21 L216.32 60.22 L216.49 60.23 L216.66 60.24 L216.83 60.25 L217.01 60.26 L217.18 60.27 L217.35 60.28 L217.52 60.29 L217.7 60.3 L217.87 60.31 L218.04 60.32 L218.21 60.33 L218.39 60.34 L218.56 60.35 L218.73 60.36 L218.9 60.37 L219.08 60.38 L219.25 60.39 L219.42 60.4 L219.59 60.4 L219.77 60.41 L219.94 60.42 L220.11 60.43 L220.28 60.44 L220.46 60.45 L220.63 60.46 L220.8 60.47 L220.97 60.47 L221.15 60.48 L221.32 60.49 L221.49 60.5 L221.66 60.51 L221.84 60.52 L222.01 60.52 L222.18 60.53 L222.35 60.54 L222.53 60.55 L222.7 60.56" stroke="#5fc6f5"/>
<path d="M32.9 60.3 L33.07 60.3 L33.25 60.3 L33.42 60.31 L33.59 60.31 L33.76 60.31 L33.94 60.32 L34.11 60.32 L34.28 60.32 L34.45 60.32 L34.63 60.33 L34.8 60.33 L34.97 60.33 L35.14 60.33 L35.32 60.34 L35.49 60.34 L35.66 60.34 L35.83 60.34 L36.01 60.35 L36.18 60.35 L36.35 60.35 L36.52 60.35 L36.7 60.36 L36.87 60.36 L37.04 60.36 L37.21 60.36 L37.39 60.37 L37.56 60.37 L37.73 60.37 L37.9 60.38 L38.08 60.38 L38.25 60.38 L38.42 60.38 L38.59 60.39 L38.77 60.39 L38.94 60.39 L39.11 60.39 L39.28 60.4 L39.46 60.4 L39.63 60.4 L39.8 60.4 L39.97 60.41 L40.15 60.41 L40.32 60.41 L40.49 60.41 L40.66 60.42 L40.84 60.42 L41.01 60.42 L41.18 60.42 L41.35 60.43 L41.53 60.43 L41.7 60.43 L41.87 60.43 L42.04 60.44 L42.22 60.44 L42.39 60.44 L42.56 60.45 L42.74 60.45 L42.91 60.45 L43.08 60.45 L43.25 60.46 L43.43 60.46 L43.6 60.46 L43.77 60.46 L43.94 60.47 L44.12 60.47 L44.29 60.47 L44.46 60.47 L44.63 60.48 L44.81 60.48 L44.98 60.48 L45.15 60.48 L45.32 60.49 L45.5 60.49 L45.67 60.49 L45.84 60.49 L46.01 60.5 L46.19 60.5 L46.36 60.5 L46.53 60.5 L46.7 60.51 L46.88 60.51 L47.05 60.51 L47.22 60.51 L47.39 60.52 L47.57 60.52 L47.74 60.52 L47.91 60.53 L48.08 60.53 L48.26 60.53 L48.43 60.53 L48.6 60.54 L48.77 60.54 L48.95 60.54 L49.12 60.54 L49.29 60.55 L49.46 60.55 L49.64 60.55 L49.81 60.55 L49.98 60.56 L50.15 60.56 L50.33 60.56 L50.5 60.56 L50.67 60.57 L50.84 60.57 L51.02 60.57 L51.19 60.57 L51.36 60.58 L51.53 60.58 L51.71 60.58 L51.88 60.58 L52.05 60.59 L52.23 60.59 L52.4 60.59 L52.57 60.59 L52.74 60.6 L52.92 60.6 L53.09 60.6 L53.26 60.6 L53.43 60.61 L53.61 60.61 L53.78 60.61 L53.95 60.61 L54.12 60.62 L54.3 60.62 L54.47 60.62 L54.64 60.63 L54.81 60.63 L54.99 60.63 L55.16 60.63 L55.33 60.64 L55.5 60.64 L55.68 60.64 L55.85 60.64 L56.02 60.65 L56.19 60.65 L56.37 60.65 L56.54 60.65 L56.71 60.66 L56.88 60.66 L57.06 60.66 L57.23 60.66 L57.4 60.67 L57.57 60.67 L57.75 60.67 L57.92 60.67 L58.09 60.68 L58.26 60.68 L58.44 60.68 L58.61 60.68 L58.78 60.69 L58.95 60.69 L59.13 60.69 L59.3 60.69 L59.47 60.7 L59.64 60.7 L59.82 60.7 L59.99 60.7 L60.16 60.71 L60.33 60.71 L60.51 60.71 L60.68 60.71 L60.85 60.72 L61.02 60.72 L61.2 60.72 L61.37 60.72 L61.54 60.73 L61.72 60.73 L61.89 60.73 L62.06 60.73 L62.23 60.74 L62.41 60.74 L62.58 60.74 L62.75 60.74 L62.92 60.75 L63.1 60.75 L63.27 60.75 L63.44 60.75 L63.61 60.76 L63.79 60.76 L63.96 60.76 L64.13 60.76 L64.3 60.77 L64.48 60.77 L64.65 60.77 L64.82 60.77 L64.99 60.78 L65.17 60.78 L65.34 60.78 L65.51 60.78 L65.68 60.79 L65.86 60.79 L66.03 60.79 L66.2 60.79 L66.37 60.8 L66.55 60.8 L66.72 60.8 L66.89 60.81 L67.06 60.81 L67.24 60.81 L67.41 60.81 L67.58 60.82 L67.75 60.82 L67.93 60.82 L68.1 60.82 L68.27 60.83 L68.44 60.83 L68.62 60.83 L68.79 60.83 L68.96 60.84 L69.13 60.84 L69.31 60.84 L69.48 60.84 L69.65 60.85 L69.82 60.85 L70 60.85 L70.17 60.85 L70.34 60.86 L70.51 60.86 L70.69 60.86 L70.86 60.86 L71.03 60.87 L71.21 60.87 L71.38 60.87 L71.55 60.87 L71.72 60.88 L71.9 60.88 L72.07 60.88 L72.24 60.88 L72.41 60.89 L72.59 60.89 L72.76 60.89 L72.93 60.89 L73.1 60.9 L73.28 60.9 L73.45 60.9 L73.62 60.9 L73.79 60.91 L73.97 60.91 L74.14 60.91 L74.31 60.91 L74.48 60.92 L74.66 60.92 L74.83 60.92 L75 60.92 L75.17 60.93 L75.35 60.93 L75.52 60.93 L75.69 60.93 L75.86 60.94 L76.04 60.94 L76.21 60.94 L76.38 60.94 L76.55 60.95 L76.73 60.95 L76.9 60.95 L77.07 60.95 L77.24 60.96 L77.42 60.96 L77.59 60.96 L77.76 60.96 L77.93 60.97 L78.11 60.97 L78.28 60.97 L78.45 60.97 L78.62 60.97 L78.8 60.98 L78.97 60.98 L79.14 60.98 L79.31 60.98 L79.49 60.99 L79.66 60.99 L79.83 60.99 L80 60.99 L80.18 61 L80.35 61 L80.52 61 L80.7 61 L80.87 61.01 L81.04 61.01 L81.21 61.01 L81.39 61.01 L81.56 61.02 L81.73 61.02 L81.9 61.02 L82.08 61.02 L82.25 61.03 L82.42 61.03 L82.59 61.03 L82.77 61.03 L82.94 61.04 L83.11 61.04 L83.28 61.04 L83.46 61.04 L83.63 61.05 L83.8 61.05 L83.97 61.05 L84.15 61.05 L84.32 61.06 L84.49 61.06 L84.66 61.06 L84.84 61.06 L85.01 67.06 L85.18 72.27 L85.35 76.72 L85.53 80.53 L85.7 83.78 L85.87 86.56 L86.04 88.93 L86.22 90.95 L86.39 92.67 L86.56 94.14 L86.73 95.39 L86.91 96.45 L87.08 97.35 L87.25 98.11 L87.42 98.75 L87.6 99.29 L87.77 99.74 L87.94 100.12 L88.11 100.43 L88.29 100.69 L88.46 100.9 L88.63 101.08 L88.8 101.21 L88.98 101.32 L89.15 101.41 L89.32 101.47 L89.49 101.51 L89.67 101.54 L89.84 101.56 L90.01 101.56 L90.19 101.56 L90.36 101.54 L90.53 101.52 L90.7 101.49 L90.88 101.46 L91.05 101.42 L91.22 101.38 L91.39 101.34 L91.57 101.3 L91.74 101.25 L91.91 101.2 L92.08 101.15 L92.26 101.1 L92.43 101.04 L92.6 100.99 L92.77 100.93 L92.95 100.88 L93.12 100.82 L93.29 100.77 L93.46 100.71 L93.64 100.66 L93.81 100.6 L93.98 100.55 L94.15 100.49 L94.33 100.43 L94.5 100.38 L94.67 100.32 L94.84 100.27 L95.02 100.21 L95.19 100.16 L95.36 100.11 L95.53 100.05 L95.71 100 L95.88 99.95 L96.05 99.89 L96.22 99.84 L96.4 99.79 L96.57 99.74 L96.74 99.68 L96.91 99.63 L97.09 99.58 L97.26 99.53 L97.43 99.48 L97.6 99.43 L97.78 99.38 L97.95 99.33 L98.12 99.28 L98.29 99.23 L98.47 99.18 L98.64 99.14 L98.81 99.09 L98.98 99.04 L99.16 98.99 L99.33 98.95 L99.5 98.9 L99.68 98.85 L99.85 98.81 L100.02 98.76 L100.19 98.72 L100.37 98.67 L100.54 98.63 L100.71 98.58 L100.88 98.54 L101.06 98.49 L101.23 98.45 L101.4 98.41 L101.57 98.36 L101.75 98.32 L101.92 98.28 L102.09 98.24 L102.26 98.19 L102.44 98.15 L102.61 98.11 L102.78 98.07 L102.95 98.03 L103.13 97.99 L103.3 97.95 L103.47 97.91 L103.64 97.87 L103.82 97.83 L103.99 97.79 L104.16 97.75 L104.33 97.71 L104.51 97.67 L104.68 97.63 L104.85 97.6 L105.02 97.56 L105.2 97.52 L105.37 97.48 L105.54 97.45 L105.71 97.41 L105.89 97.37 L106.06 97.34 L106.23 97.3 L106.4 97.27 L106.58 97.23 L106.75 97.2 L106.92 97.16 L107.09 97.13 L107.27 97.09 L107.44 97.06 L107.61 97.02 L107.78 96.99 L107.96 96.95 L108.13 96.92 L108.3 96.89 L108.47 96.86 L108.65 96.82 L108.82 96.79 L108.99 96.76 L109.17 96.73 L109.34 96.69 L109.51 96.66 L109.68 96.63 L109.86 96.6 L110.03 96.57 L110.2 96.54 L110.37 96.51 L110.55 96.48 L110.72 96.45 L110.89 96.42 L111.06 96.39 L111.24 96.36 L111.41 96.33 L111.58 96.3 L111.75 96.27 L111.93 96.24 L112.1 96.21 L112.27 96.18 L112.44 96.15 L112.62 96.13 L112.79 96.1 L112.96 96.07 L113.13 96.04 L113.31 96.02 L113.48 95.99 L113.65 95.96 L113.82 95.93 L114 95.91 L114.17 95.88 L114.34 95.85 L114.51 95.83 L114.69 95.8 L114.86 95.78 L115.03 95.75 L115.2 95.73 L115.38 95.7 L115.55 95.68 L115.72 95.65 L115.89 95.63 L116.07 95.6 L116.24 95.58 L116.41 95.55 L116.58 95.53 L116.76 95.5 L116.93 95.48 L117.1 95.46 L117.27 95.43 L117.45 95.41 L117.62 95.39 L117.79 95.36 L117.96 95.34 L118.14 95.32 L118.31 95.3 L118.48 95.27 L118.66 95.25 L118.83 95.23 L119 95.21 L119.17 95.19 L119.35 95.16 L119.52 95.14 L119.69 95.12 L119.86 95.1 L120.04 95.08 L120.21 95.06 L120.38 95.04 L120.55 95.02 L120.73 95 L120.9 94.97 L121.07 94.95 L121.24 94.93 L121.42 94.91 L121.59 94.89 L121.76 94.87 L121.93 94.86 L122.11 94.84 L122.28 94.82 L122.45 94.8 L122.62 94.78 L122.8 94.76 L122.97 94.74 L123.14 94.72 L123.31 94.7 L123.49 94.68 L123.66 94.67 L123.83 94.65 L124 94.63 L124.18 94.61 L124.35 94.59 L124.52 94.58 L124.69 94.56 L124.87 94.54 L125.04 94.52 L125.21 94.51 L125.38 94.49 L125.56 94.47 L125.73 94.46 L125.9 94.44 L126.07 94.42 L126.25 94.4 L126.42 94.39 L126.59 94.37 L126.76 94.36 L126.94 94.34 L127.11 94.32 L127.28 94.31 L127.45 94.29 L127.63 94.28 L127.8 94.26 L127.97 94.24 L128.15 94.23 L128.32 94.21 L128.49 94.2 L128.66 94.18 L128.84 94.17 L129.01 94.15 L129.18 94.14 L129.35 94.12 L129.53 94.11 L129.7 94.1 L129.87 94.08 L130.04 94.07 L130.22 94.05 L130.39 94.04 L130.56 94.02 L130.73 94.01 L130.91 94 L131.08 93.98 L131.25 93.97 L131.42 93.95 L131.6 93.94 L131.77 93.93 L131.94 93.91 L132.11 93.9 L132.29 93.89 L132.46 93.88 L132.63 93.86 L132.8 93.85 L132.98 93.84 L133.15 93.82 L133.32 93.81 L133.49 93.8 L133.67 93.79 L133.84 93.77 L134.01 93.76 L134.18 93.75 L134.36 93.74 L134.53 93.73 L134.7 93.71 L134.87 93.7 L135.05 93.69 L135.22 93.68 L135.39 93.67 L135.56 93.65 L135.74 93.64 L135.91 93.63 L136.08 93.62 L136.25 93.61 L136.43 93.6 L136.6 93.59 L136.77 93.58 L136.94 93.56 L137.12 93.55 L137.29 93.54 L137.46 93.53 L137.64 93.52 L137.81 93.51 L137.98 93.5 L138.15 93.49 L138.33 93.48 L138.5 93.47 L138.67 93.46 L138.84 93.45 L139.02 93.44 L139.19 93.43 L139.36 93.42 L139.53 93.41 L139.71 93.4 L139.88 93.39 L140.05 93.38 L140.22 93.37 L140.4 93.36 L140.57 93.35 L140.74 93.34 L140.91 93.35 L141.09 93.35 L141.26 93.36 L141.43 93.36 L141.6 93.37 L141.78 93.38 L141.95 93.38 L142.12 93.39 L142.29 93.4 L142.47 93.4 L142.64 93.41 L142.81 93.41 L142.98 93.42 L143.16 93.43 L143.33 93.43 L143.5 93.44 L143.67 93.45 L143.85 93.45 L144.02 93.46 L144.19 93.47 L144.36 93.48 L144.54 93.48 L144.71 93.49 L144.88 93.5 L145.05 93.5 L145.23 93.51 L145.4 93.52 L145.57 93.53 L145.74 93.53 L145.92 93.54 L146.09 93.55 L146.26 93.56 L146.43 93.56 L146.61 93.57 L146.78 93.58 L146.95 93.59 L147.13 93.59 L147.3 93.6 L147.47 93.61 L147.64 93.62 L147.82 93.63 L147.99 93.63 L148.16 93.64 L148.33 93.65 L148.51 93.66 L148.68 93.67 L148.85 93.68 L149.02 93.68 L149.2 93.69 L149.37 93.7 L149.54 93.71 L149.71 93.72 L149.89 93.73 L150.06 93.73 L150.23 93.74 L150.4 93.75 L150.58 93.76 L150.75 93.77 L150.92 93.78 L151.09 93.79 L151.27 93.8 L151.44 93.81 L151.61 93.81 L151.78 93.82 L151.96 93.83 L152.13 93.84 L152.3 93.85 L152.47 93.86 L152.65 93.87 L152.82 93.88 L152.99 93.89 L153.16 93.9 L153.34 93.91 L153.51 93.92 L153.68 93.93 L153.85 93.94 L154.03 93.94 L154.2 93.95 L154.37 93.96 L154.54 93.97 L154.72 93.98 L154.89 93.99 L155.06 94 L155.23 94.01 L155.41 94.02 L155.58 94.03 L155.75 94.04 L155.92 94.05 L156.1 94.06 L156.27 94.07 L156.44 94.08 L156.62 94.09 L156.79 94.1 L156.96 94.11 L157.13 94.12 L157.31 94.13 L157.48 94.14 L157.65 94.15 L157.82 94.16 L158 94.17 L158.17 94.18 L158.34 94.2 L158.51 94.21 L158.69 94.22 L158.86 94.23 L159.03 94.24 L159.2 94.25 L159.38 94.26 L159.55 94.27 L159.72 94.28 L159.89 94.29 L160.07 94.3 L160.24 94.31 L160.41 94.32 L160.58 94.33 L160.76 94.34 L160.93 94.36 L161.1 94.37 L161.27 94.38 L161.45 94.39 L161.62 94.4 L161.79 94.41 L161.96 94.42 L162.14 94.43 L162.31 94.44 L162.48 94.45 L162.65 94.47 L162.83 94.48 L163 94.49 L163.17 94.5 L163.34 94.51 L163.52 94.52 L163.69 94.53 L163.86 94.55 L164.03 94.56 L164.21 94.57 L164.38 94.58 L164.55 94.59 L164.72 94.6 L164.9 94.61 L165.07 94.63 L165.24 94.64 L165.41 94.65 L165.59 94.66 L165.76 94.67 L165.93 94.68 L166.11 94.69 L166.28 94.71 L166.45 94.72 L166.62 94.73 L166.8 94.74 L166.97 94.75 L167.14 94.77 L167.31 94.78 L167.49 94.79 L167.66 94.8 L167.83 94.81 L168 94.82 L168.18 94.84 L168.35 94.85 L168.52 94.86 L168.69 94.87 L168.87 94.88 L169.04 94.9 L169.21 94.91 L169.38 94.92 L169.56 94.93 L169.73 94.95 L169.9 94.96 L170.07 94.97 L170.25 94.98 L170.42 94.99 L170.59 95.01 L170.76 95.02 L170.94 95.03 L171.11 95.03 L171.28 95.03 L171.45 94.26 L171.63 92.4 L171.8 90.65 L171.97 89.01 L172.14 87.47 L172.32 86.02 L172.49 84.66 L172.66 83.38 L172.83 82.19 L173.01 81.06 L173.18 80.01 L173.35 79.02 L173.52 78.09 L173.7 77.22 L173.87 76.41 L174.04 75.64 L174.21 74.93 L174.39 74.26 L174.56 73.63 L174.73 73.04 L174.9 72.49 L175.08 71.97 L175.25 71.49 L175.42 71.04 L175.6 70.62 L175.77 70.23 L175.94 69.86 L176.11 69.52 L176.29 69.19 L176.46 68.9 L176.63 68.62 L176.8 68.36 L176.98 68.11 L177.15 67.89 L177.32 67.68 L177.49 67.49 L177.67 67.3 L177.84 67.14 L178.01 66.98 L178.18 66.84 L178.36 66.7 L178.53 66.58 L178.7 66.47 L178.87 66.36 L179.05 66.27 L179.22 66.18 L179.39 66.1 L179.56 66.02 L179.74 65.96 L179.91 65.89 L180.08 65.84 L180.25 65.79 L180.43 65.74 L180.6 65.7 L180.77 65.67 L180.94 65.63 L181.12 65.6 L181.29 65.58 L181.46 65.56 L181.63 65.54 L181.81 65.52 L181.98 65.51 L182.15 65.5 L182.32 65.49 L182.5 65.49 L182.67 65.48 L182.84 65.48 L183.01 65.48 L183.19 65.48 L183.36 65.48 L183.53 65.49 L183.7 65.49 L183.88 65.5 L184.05 65.51 L184.22 65.52 L184.39 65.53 L184.57 65.54 L184.74 65.55 L184.91 65.56 L185.09 65.58 L185.26 65.59 L185.43 65.61 L185.6 65.62 L185.78 65.64 L185.95 65.65 L186.12 65.67 L186.29 65.69 L186.47 65.7 L186.64 65.72 L186.81 65.74 L186.98 65.76 L187.16 65.77 L187.33 65.79 L187.5 65.81 L187.67 65.83 L187.85 65.85 L188.02 65.87 L188.19 65.88 L188.36 65.9 L188.54 65.92 L188.71 65.94 L188.88 65.96 L189.05 65.98 L189.23 66 L189.4 66.01 L189.57 66.03 L189.74 66.05 L189.92 66.07 L190.09 66.09 L190.26 66.11 L190.43 66.12 L190.61 66.14 L190.78 66.16 L190.95 66.18 L191.12 66.2 L191.3 66.21 L191.47 66.23 L191.64 66.25 L191.81 66.26 L191.99 66.28 L192.16 66.3 L192.33 66.32 L192.5 66.33 L192.68 66.35 L192.85 66.36 L193.02 66.38 L193.19 66.4 L193.37 66.41 L193.54 66.43 L193.71 66.44 L193.88 66.46 L194.06 66.47 L194.23 66.49 L194.4 66.5 L194.58 66.52 L194.75 66.53 L194.92 66.55 L195.09 66.56 L195.27 66.58 L195.44 66.59 L195.61 66.6 L195.78 66.62 L195.96 66.63 L196.13 66.64 L196.3 66.66 L196.47 66.67 L196.65 66.68 L196.82 66.7 L196.99 66.71 L197.16 66.72 L197.34 66.73 L197.51 66.75 L197.68 66.76 L197.85 66.77 L198.03 66.78 L198.2 66.79 L198.37 66.8 L198.54 66.82 L198.72 66.83 L198.89 66.84 L199.06 66.85 L199.23 66.86 L199.41 66.87 L199.58 66.88 L199.75 66.89 L199.92 66.9 L200.1 66.91 L200.27 66.92 L200.44 66.93 L200.61 66.94 L200.79 66.95 L200.96 66.96 L201.13 66.97 L201.3 66.98 L201.48 66.99 L201.65 67 L201.82 67.01 L201.99 67.02 L202.17 67.03 L202.34 67.03 L202.51 67.04 L202.68 67.05 L202.86 67.06 L203.03 67.07 L203.2 67.08 L203.37 67.08 L203.55 67.09 L203.72 67.1 L203.89 67.11 L204.07 67.12 L204.24 67.12 L204.41 67.13 L204.58 67.14 L204.76 67.15 L204.93 67.15 L205.1 67.16 L205.27 67.17 L205.45 67.17 L205.62 67.18 L205.79 67.19 L205.96 67.19 L206.14 67.2 L206.31 67.21 L206.48 67.21 L206.65 67.22 L206.83 67.23 L207 67.23 L207.17 67.24 L207.34 67.25 L207.52 67.25 L207.69 67.26 L207.86 67.26 L208.03 67.27 L208.21 67.27 L208.38 67.28 L208.55 67.29 L208.72 67.29 L208.9 67.3 L209.07 67.3 L209.24 67.31 L209.41 67.31 L209.59 67.32 L209.76 67.32 L209.93 67.33 L210.1 67.33 L210.28 67.34 L210.45 67.34 L210.62 67.35 L210.79 67.35 L210.97 67.36 L211.14 67.36 L211.31 67.37 L211.48 67.37 L211.66 67.38 L211.83 67.38 L212 67.38 L212.17 67.39 L212.35 67.39 L212.52 67.4 L212.69 67.4 L212.86 67.4 L213.04 67.41 L213.21 67.41 L213.38 67.42 L213.56 67.42 L213.73 67.42 L213.9 67.43 L214.07 67.43 L214.25 67.44 L214.42 67.44 L214.59 67.44 L214.76 67.45 L214.94 67.45 L215.11 67.45 L215.28 67.46 L215.45 67.46 L215.63 67.46 L215.8 67.47 L215.97 67.47 L216.14 67.47 L216.32 67.48 L216.49 67.48 L216.66 67.48 L216.83 67.49 L217.01 67.49 L217.18 67.49 L217.35 67.49 L217.52 67.5 L217.7 67.5 L217.87 67.5 L218.04 67.51 L218.21 67.51 L218.39 67.51 L218.56 67.51 L218.73 67.52 L218.9 67.52 L219.08 67.52 L219.25 67.52 L219.42 67.53 L219.59 67.53 L219.77 67.53 L219.94 67.53 L220.11 67.54 L220.28 67.54 L220.46 67.54 L220.63 67.54 L220.8 67.55 L220.97 67.55 L221.15 67.55 L221.32 67.55 L221.49 67.56 L221.66 67.56 L221.84 67.56 L222.01 67.56 L222.18 67.56 L222.35 67.57 L222.53 67.57 L222.7 67.57" stroke="#b07fe6"/>
<path d="M32.9 74.59 L33.07 74.52 L33.25 74.46 L33.42 74.4 L33.59 74.33 L33.76 74.27 L33.94 74.21 L34.11 74.14 L34.28 74.08 L34.45 74.02 L34.63 73.95 L34.8 73.89 L34.97 73.83 L35.14 73.77 L35.32 73.71 L35.49 73.64 L35.66 73.58 L35.83 73.52 L36.01 73.46 L36.18 73.4 L36.35 73.34 L36.52 73.28 L36.7 73.22 L36.87 73.15 L37.04 73.09 L37.21 73.03 L37.39 72.97 L37.56 72.91 L37.73 72.85 L37.9 72.79 L38.08 72.73 L38.25 72.68 L38.42 72.62 L38.59 72.56 L38.77 72.5 L38.94 72.44 L39.11 72.38 L39.28 72.32 L39.46 72.26 L39.63 72.21 L39.8 72.15 L39.97 72.09 L40.15 72.03 L40.32 71.97 L40.49 71.92 L40.66 71.86 L40.84 71.8 L41.01 71.75 L41.18 71.69 L41.35 71.63 L41.53 71.57 L41.7 71.52 L41.87 71.46 L42.04 71.41 L42.22 71.35 L42.39 71.29 L42.56 71.24 L42.74 71.18 L42.91 71.13 L43.08 71.07 L43.25 71.02 L43.43 70.96 L43.6 70.91 L43.77 70.85 L43.94 70.8 L44.12 70.74 L44.29 70.69 L44.46 70.63 L44.63 70.58 L44.81 70.53 L44.98 70.47 L45.15 70.42 L45.32 70.36 L45.5 70.31 L45.67 70.26 L45.84 70.2 L46.01 70.15 L46.19 70.1 L46.36 70.05 L46.53 69.99 L46.7 69.94 L46.88 69.89 L47.05 69.84 L47.22 69.78 L47.39 69.73 L47.57 69.68 L47.74 69.63 L47.91 69.58 L48.08 69.52 L48.26 69.47 L48.43 69.42 L48.6 69.37 L48.77 69.32 L48.95 69.27 L49.12 69.22 L49.29 69.17 L49.46 69.12 L49.64 69.07 L49.81 69.02 L49.98 68.97 L50.15 68.92 L50.33 68.87 L50.5 68.82 L50.67 68.77 L50.84 68.72 L51.02 68.67 L51.19 68.62 L51.36 68.57 L51.53 68.52 L51.71 68.47 L51.88 68.42 L52.05 68.38 L52.23 68.33 L52.4 68.28 L52.57 68.23 L52.74 68.18 L52.92 68.13 L53.09 68.09 L53.26 68.04 L53.43 67.99 L53.61 67.94 L53.78 67.9 L53.95 67.85 L54.12 67.8 L54.3 67.75 L54.47 67.71 L54.64 67.66 L54.81 67.61 L54.99 67.57 L55.16 67.52 L55.33 67.47 L55.5 67.43 L55.68 67.38 L55.85 67.34 L56.02 67.29 L56.19 67.24 L56.37 67.2 L56.54 67.15 L56.71 67.11 L56.88 67.06 L57.06 67.02 L57.23 66.97 L57.4 66.93 L57.57 66.88 L57.75 66.84 L57.92 66.79 L58.09 66.75 L58.26 66.7 L58.44 66.66 L58.61 66.61 L58.78 66.57 L58.95 66.53 L59.13 66.48 L59.3 66.44 L59.47 66.4 L59.64 66.35 L59.82 66.31 L59.99 66.27 L60.16 66.22 L60.33 66.18 L60.51 66.14 L60.68 66.09 L60.85 66.05 L61.02 66.01 L61.2 65.96 L61.37 65.92 L61.54 65.88 L61.72 65.84 L61.89 65.8 L62.06 65.75 L62.23 65.71 L62.41 65.67 L62.58 65.63 L62.75 65.59 L62.92 65.54 L63.1 65.5 L63.27 65.46 L63.44 65.42 L63.61 65.38 L63.79 65.34 L63.96 65.3 L64.13 65.26 L64.3 65.22 L64.48 65.18 L64.65 65.14 L64.82 65.09 L64.99 65.05 L65.17 65.01 L65.34 64.97 L65.51 64.93 L65.68 64.89 L65.86 64.85 L66.03 64.81 L66.2 64.78 L66.37 64.74 L66.55 64.7 L66.72 64.66 L66.89 64.62 L67.06 64.58 L67.24 64.54 L67.41 64.5 L67.58 64.46 L67.75 64.42 L67.93 64.38 L68.1 64.35 L68.27 64.31 L68.44 64.27 L68.62 64.23 L68.79 64.19 L68.96 64.15 L69.13 64.12 L69.31 64.08 L69.48 64.04 L69.65 64 L69.82 63.97 L70 63.93 L70.17 63.89 L70.34 63.85 L70.51 63.82 L70.69 63.78 L70.86 63.74 L71.03 63.71 L71.21 63.67 L71.38 63.63 L71.55 63.6 L71.72 63.56 L71.9 63.52 L72.07 63.49 L72.24 63.45 L72.41 63.41 L72.59 63.38 L72.76 63.34 L72.93 63.31 L73.1 63.27 L73.28 63.23 L73.45 63.2 L73.62 63.16 L73.79 63.13 L73.97 63.09 L74.14 63.06 L74.31 63.02 L74.48 62.99 L74.66 62.95 L74.83 62.92 L75 62.88 L75.17 62.85 L75.35 62.81 L75.52 62.78 L75.69 62.74 L75.86 62.71 L76.04 62.67 L76.21 62.64 L76.38 62.61 L76.55 62.57 L76.73 62.54 L76.9 62.5 L77.07 62.47 L77.24 62.44 L77.42 62.4 L77.59 62.37 L77.76 62.33 L77.93 62.3 L78.11 62.27 L78.28 62.23 L78.45 62.2 L78.62 62.17 L78.8 62.14 L78.97 62.1 L79.14 62.07 L79.31 62.04 L79.49 62 L79.66 61.97 L79.83 61.94 L80 61.91 L80.18 61.87 L80.35 61.84 L80.52 61.81 L80.7 61.78 L80.87 61.75 L81.04 61.71 L81.21 61.68 L81.39 61.65 L81.56 61.62 L81.73 61.59 L81.9 61.56 L82.08 61.52 L82.25 61.49 L82.42 61.46 L82.59 61.43 L82.77 61.4 L82.94 61.37 L83.11 61.34 L83.28 61.31 L83.46 61.28 L83.63 61.24 L83.8 61.21 L83.97 61.18 L84.15 61.15 L84.32 61.12 L84.49 61.09 L84.66 61.06 L84.84 61.06 L85.01 62.05 L85.18 62.98 L85.35 63.9 L85.53 64.8 L85.7 65.67 L85.87 66.52 L86.04 67.35 L86.22 68.16 L86.39 68.96 L86.56 69.73 L86.73 70.48 L86.91 71.22 L87.08 71.94 L87.25 72.64 L87.42 73.32 L87.6 73.99 L87.77 74.64 L87.94 75.28 L88.11 75.9 L88.29 76.51 L88.46 77.1 L88.63 77.68 L88.8 78.24 L88.98 78.79 L89.15 79.33 L89.32 79.86 L89.49 80.37 L89.67 80.87 L89.84 81.36 L90.01 81.84 L90.19 82.3 L90.36 82.76 L90.53 83.2 L90.7 83.64 L90.88 84.06 L91.05 84.47 L91.22 84.88 L91.39 85.27 L91.57 85.66 L91.74 86.04 L91.91 86.4 L92.08 86.76 L92.26 87.11 L92.43 87.46 L92.6 87.79 L92.77 88.12 L92.95 88.44 L93.12 88.75 L93.29 89.06 L93.46 89.35 L93.64 89.64 L93.81 89.93 L93.98 90.21 L94.15 90.48 L94.33 90.74 L94.5 91 L94.67 91.26 L94.84 91.51 L95.02 91.75 L95.19 91.98 L95.36 92.22 L95.53 92.44 L95.71 92.66 L95.88 92.88 L96.05 93.09 L96.22 93.3 L96.4 93.5 L96.57 93.7 L96.74 93.89 L96.91 94.08 L97.09 94.27 L97.26 94.45 L97.43 94.63 L97.6 94.8 L97.78 94.97 L97.95 95.14 L98.12 95.3 L98.29 95.46 L98.47 95.61 L98.64 95.76 L98.81 95.91 L98.98 96.06 L99.16 96.2 L99.33 96.34 L99.5 96.48 L99.68 96.61 L99.85 96.74 L100.02 96.87 L100.19 97 L100.37 97.12 L100.54 97.24 L100.71 97.36 L100.88 97.48 L101.06 97.59 L101.23 97.7 L101.4 97.81 L101.57 97.92 L101.75 98.02 L101.92 98.13 L102.09 98.23 L102.26 98.33 L102.44 98.42 L102.61 98.52 L102.78 98.61 L102.95 98.7 L103.13 98.79 L103.3 98.88 L103.47 98.97 L103.64 99.05 L103.82 99.14 L103.99 99.22 L104.16 99.3 L104.33 99.38 L104.51 99.46 L104.68 99.53 L104.85 99.61 L105.02 99.68 L105.2 99.75 L105.37 99.82 L105.54 99.89 L105.71 99.96 L105.89 100.03 L106.06 100.09 L106.23 100.16 L106.4 100.22 L106.58 100.29 L106.75 100.35 L106.92 100.41 L107.09 100.47 L107.27 100.53 L107.44 100.59 L107.61 100.64 L107.78 100.7 L107.96 100.76 L108.13 100.81 L108.3 100.87 L108.47 100.92 L108.65 100.97 L108.82 101.02 L108.99 101.07 L109.17 101.12 L109.34 101.17 L109.51 101.22 L109.68 101.27 L109.86 101.32 L110.03 101.36 L110.2 101.41 L110.37 101.46 L110.55 101.5 L110.72 101.54 L110.89 101.59 L111.06 101.63 L111.24 101.67 L111.41 101.72 L111.58 101.76 L111.75 101.8 L111.93 101.84 L112.1 101.88 L112.27 101.92 L112.44 101.96 L112.62 102 L112.79 102.04 L112.96 102.08 L113.13 102.11 L113.31 102.15 L113.48 102.19 L113.65 102.22 L113.82 102.26 L114 102.3 L114.17 102.33 L114.34 102.37 L114.51 102.4 L114.69 102.44 L114.86 102.47 L115.03 102.5 L115.2 102.54 L115.38 102.57 L115.55 102.6 L115.72 102.64 L115.89 102.67 L116.07 102.7 L116.24 102.73 L116.41 102.76 L116.58 102.8 L116.76 102.83 L116.93 102.86 L117.1 102.89 L117.27 102.92 L117.45 102.95 L117.62 102.98 L117.79 103.01 L117.96 103.04 L118.14 103.07 L118.31 103.1 L118.48 103.13 L118.66 103.16 L118.83 103.18 L119 103.21 L119.17 103.24 L119.35 103.27 L119.52 103.3 L119.69 103.33 L119.86 103.35 L120.04 103.38 L120.21 103.41 L120.38 103.44 L120.55 103.46 L120.73 103.49 L120.9 103.52 L121.07 103.54 L121.24 103.57 L121.42 103.6 L121.59 103.62 L121.76 103.65 L121.93 103.68 L122.11 103.7 L122.28 103.73 L122.45 103.75 L122.62 103.78 L122.8 103.81 L122.97 103.83 L123.14 103.86 L123.31 103.88 L123.49 103.91 L123.66 103.93 L123.83 103.96 L124 103.98 L124.18 104.01 L124.35 104.03 L124.52 104.06 L124.69 104.08 L124.87 104.11 L125.04 104.13 L125.21 104.16 L125.38 104.18 L125.56 104.2 L125.73 104.23 L125.9 104.25 L126.07 104.28 L126.25 104.3 L126.42 104.32 L126.59 104.35 L126.76 104.37 L126.94 104.4 L127.11 104.42 L127.28 104.44 L127.45 104.47 L127.63 104.49 L127.8 104.52 L127.97 104.54 L128.15 104.56 L128.32 104.59 L128.49 104.61 L128.66 104.63 L128.84 104.66 L129.01 104.68 L129.18 104.7 L129.35 104.73 L129.53 104.75 L129.7 104.77 L129.87 104.8 L130.04 104.82 L130.22 104.84 L130.39 104.86 L130.56 104.89 L130.73 104.91 L130.91 104.93 L131.08 104.96 L131.25 104.98 L131.42 105 L131.6 105.03 L131.77 105.05 L131.94 105.07 L132.11 105.09 L132.29 105.12 L132.46 105.14 L132.63 105.16 L132.8 105.18 L132.98 105.21 L133.15 105.23 L133.32 105.25 L133.49 105.27 L133.67 105.3 L133.84 105.32 L134.01 105.34 L134.18 105.36 L134.36 105.39 L134.53 105.41 L134.7 105.43 L134.87 105.45 L135.05 105.48 L135.22 105.5 L135.39 105.52 L135.56 105.54 L135.74 105.57 L135.91 105.59 L136.08 105.61 L136.25 105.63 L136.43 105.65 L136.6 105.68 L136.77 105.7 L136.94 105.72 L137.12 105.74 L137.29 105.77 L137.46 105.79 L137.64 105.81 L137.81 105.83 L137.98 105.85 L138.15 105.88 L138.33 105.9 L138.5 105.92 L138.67 105.94 L138.84 105.97 L139.02 105.99 L139.19 106.01 L139.36 106.03 L139.53 106.05 L139.71 106.08 L139.88 106.1 L140.05 106.12 L140.22 106.14 L140.4 106.16 L140.57 106.19 L140.74 106.21 L140.91 106.23 L141.09 106.25 L141.26 106.27 L141.43 106.3 L141.6 106.32 L141.78 106.34 L141.95 106.36 L142.12 106.38 L142.29 106.41 L142.47 106.43 L142.64 106.45 L142.81 106.47 L142.98 106.49 L143.16 106.52 L143.33 106.54 L143.5 106.56 L143.67 106.58 L143.85 106.6 L144.02 106.62 L144.19 106.65 L144.36 106.67 L144.54 106.69 L144.71 106.71 L144.88 106.73 L145.05 106.76 L145.23 106.78 L145.4 106.8 L145.57 106.82 L145.74 106.84 L145.92 106.87 L146.09 106.89 L146.26 106.91 L146.43 106.93 L146.61 106.95 L146.78 106.97 L146.95 107 L147.13 107.02 L147.3 107.04 L147.47 107.06 L147.64 107.08 L147.82 107.11 L147.99 107.13 L148.16 107.15 L148.33 107.17 L148.51 107.19 L148.68 107.21 L148.85 107.24 L149.02 107.26 L149.2 107.28 L149.37 107.3 L149.54 107.32 L149.71 107.35 L149.89 107.37 L150.06 107.39 L150.23 107.41 L150.4 107.43 L150.58 107.45 L150.75 107.48 L150.92 107.5 L151.09 107.52 L151.27 107.54 L151.44 107.56 L151.61 107.59 L151.78 107.61 L151.96 107.63 L152.13 107.65 L152.3 107.67 L152.47 107.69 L152.65 107.72 L152.82 107.74 L152.99 107.76 L153.16 107.78 L153.34 107.8 L153.51 107.82 L153.68 107.85 L153.85 107.87 L154.03 107.89 L154.2 107.91 L154.37 107.93 L154.54 107.96 L154.72 107.98 L154.89 108 L155.06 108.02 L155.23 108.04 L155.41 108.06 L155.58 108.09 L155.75 108.11 L155.92 108.13 L156.1 108.15 L156.27 108.17 L156.44 108.19 L156.62 108.22 L156.79 108.24 L156.96 108.26 L157.13 108.28 L157.31 108.3 L157.48 108.33 L157.65 108.35 L157.82 108.37 L158 108.39 L158.17 108.41 L158.34 108.43 L158.51 108.46 L158.69 108.48 L158.86 108.5 L159.03 108.52 L159.2 108.54 L159.38 108.56 L159.55 108.59 L159.72 108.61 L159.89 108.63 L160.07 108.65 L160.24 108.67 L160.41 108.69 L160.58 108.72 L160.76 108.74 L160.93 108.76 L161.1 108.78 L161.27 108.8 L161.45 108.82 L161.62 108.85 L161.79 108.87 L161.96 108.89 L162.14 108.91 L162.31 108.93 L162.48 108.96 L162.65 108.98 L162.83 109 L163 109.02 L163.17 109.04 L163.34 109.06 L163.52 109.09 L163.69 109.11 L163.86 109.13 L164.03 109.15 L164.21 109.17 L164.38 109.19 L164.55 109.22 L164.72 109.24 L164.9 109.26 L165.07 109.28 L165.24 109.3 L165.41 109.32 L165.59 109.35 L165.76 109.37 L165.93 109.39 L166.11 109.41 L166.28 109.43 L166.45 109.46 L166.62 109.48 L166.8 109.5 L166.97 109.52 L167.14 109.54 L167.31 109.56 L167.49 109.59 L167.66 109.61 L167.83 109.63 L168 109.65 L168.18 109.67 L168.35 109.69 L168.52 109.72 L168.69 109.74 L168.87 109.76 L169.04 109.78 L169.21 109.8 L169.38 109.82 L169.56 109.85 L169.73 109.87 L169.9 109.89 L170.07 109.91 L170.25 109.93 L170.42 109.95 L170.59 109.98 L170.76 110 L170.94 110.02 L171.11 109.37 L171.28 108.73 L171.45 108.1 L171.63 107.49 L171.8 106.88 L171.97 106.29 L172.14 105.71 L172.32 105.15 L172.49 104.59 L172.66 104.04 L172.83 103.51 L173.01 102.98 L173.18 102.46 L173.35 101.96 L173.52 101.46 L173.7 100.98 L173.87 100.5 L174.04 100.03 L174.21 99.57 L174.39 99.12 L174.56 98.68 L174.73 98.24 L174.9 97.81 L175.08 97.4 L175.25 96.98 L175.42 96.58 L175.6 96.19 L175.77 95.8 L175.94 95.41 L176.11 95.04 L176.29 94.67 L176.46 94.31 L176.63 93.96 L176.8 93.61 L176.98 93.26 L177.15 92.93 L177.32 92.6 L177.49 92.27 L177.67 91.95 L177.84 91.64 L178.01 91.33 L178.18 91.03 L178.36 90.73 L178.53 90.44 L178.7 90.15 L178.87 89.87 L179.05 89.59 L179.22 89.32 L179.39 89.05 L179.56 88.79 L179.74 88.53 L179.91 88.27 L180.08 88.02 L180.25 87.78 L180.43 87.53 L180.6 87.29 L180.77 87.06 L180.94 86.83 L181.12 86.6 L181.29 86.38 L181.46 86.16 L181.63 85.94 L181.81 85.73 L181.98 85.52 L182.15 85.31 L182.32 85.1 L182.5 84.9 L182.67 84.71 L182.84 84.51 L183.01 84.32 L183.19 84.13 L183.36 83.95 L183.53 83.76 L183.7 83.58 L183.88 83.41 L184.05 83.23 L184.22 83.06 L184.39 82.89 L184.57 82.72 L184.74 82.56 L184.91 82.39 L185.09 82.23 L185.26 82.07 L185.43 81.92 L185.6 81.77 L185.78 81.61 L185.95 81.46 L186.12 81.32 L186.29 81.17 L186.47 81.03 L186.64 80.89 L186.81 80.75 L186.98 80.61 L187.16 80.47 L187.33 80.34 L187.5 80.21 L187.67 80.08 L187.85 79.95 L188.02 79.82 L188.19 79.69 L188.36 79.57 L188.54 79.45 L188.71 79.32 L188.88 79.21 L189.05 79.09 L189.23 78.97 L189.4 78.86 L189.57 78.74 L189.74 78.63 L189.92 78.52 L190.09 78.41 L190.26 78.3 L190.43 78.19 L190.61 78.09 L190.78 77.98 L190.95 77.88 L191.12 77.78 L191.3 77.67 L191.47 77.57 L191.64 77.47 L191.81 77.38 L191.99 77.28 L192.16 77.18 L192.33 77.09 L192.5 77 L192.68 76.9 L192.85 76.81 L193.02 76.72 L193.19 76.63 L193.37 76.54 L193.54 76.45 L193.71 76.37 L193.88 76.28 L194.06 76.19 L194.23 76.11 L194.4 76.03 L194.58 75.94 L194.75 75.86 L194.92 75.78 L195.09 75.7 L195.27 75.62 L195.44 75.54 L195.61 75.46 L195.78 75.39 L195.96 75.31 L196.13 75.23 L196.3 75.16 L196.47 75.08 L196.65 75.01 L196.82 74.94 L196.99 74.87 L197.16 74.79 L197.34 74.72 L197.51 74.65 L197.68 74.58 L197.85 74.51 L198.03 74.44 L198.2 74.38 L198.37 74.31 L198.54 74.24 L198.72 74.18 L198.89 74.11 L199.06 74.04 L199.23 73.98 L199.41 73.92 L199.58 73.85 L199.75 73.79 L199.92 73.73 L200.1 73.66 L200.27 73.6 L200.44 73.54 L200.61 73.48 L200.79 73.42 L200.96 73.36 L201.13 73.3 L201.3 73.24 L201.48 73.18 L201.65 73.13 L201.82 73.07 L201.99 73.01 L202.17 72.96 L202.34 72.9 L202.51 72.84 L202.68 72.79 L202.86 72.73 L203.03 72.68 L203.2 72.63 L203.37 72.57 L203.55 72.52 L203.72 72.47 L203.89 72.41 L204.07 72.36 L204.24 72.31 L204.41 72.26 L204.58 72.21 L204.76 72.16 L204.93 72.11 L205.1 72.06 L205.27 72.01 L205.45 71.96 L205.62 71.91 L205.79 71.86 L205.96 71.81 L206.14 71.76 L206.31 71.71 L206.48 71.67 L206.65 71.62 L206.83 71.57 L207 71.53 L207.17 71.48 L207.34 71.44 L207.52 71.39 L207.69 71.34 L207.86 71.3 L208.03 71.26 L208.21 71.21 L208.38 71.17 L208.55 71.12 L208.72 71.08 L208.9 71.04 L209.07 70.99 L209.24 70.95 L209.41 70.91 L209.59 70.87 L209.76 70.82 L209.93 70.78 L210.1 70.74 L210.28 70.7 L210.45 70.66 L210.62 70.62 L210.79 70.58 L210.97 70.54 L211.14 70.5 L211.31 70.46 L211.48 70.42 L211.66 70.38 L211.83 70.34 L212 70.3 L212.17 70.26 L212.35 70.22 L212.52 70.19 L212.69 70.15 L212.86 70.11 L213.04 70.07 L213.21 70.04 L213.38 70 L213.56 69.96 L213.73 69.93 L213.9 69.89 L214.07 69.85 L214.25 69.82 L214.42 69.78 L214.59 69.75 L214.76 69.71 L214.94 69.68 L215.11 69.64 L215.28 69.61 L215.45 69.57 L215.63 69.54 L215.8 69.5 L215.97 69.47 L216.14 69.44 L216.32 69.4 L216.49 69.37 L216.66 69.33 L216.83 69.3 L217.01 69.27 L217.18 69.24 L217.35 69.2 L217.52 69.17 L217.7 69.14 L217.87 69.11 L218.04 69.08 L218.21 69.04 L218.39 69.01 L218.56 68.98 L218.73 68.95 L218.9 68.92 L219.08 68.89 L219.25 68.86 L219.42 68.83 L219.59 68.8 L219.77 68.77 L219.94 68.74 L220.11 68.71 L220.28 68.68 L220.46 68.65 L220.63 68.62 L220.8 68.59 L220.97 68.56 L221.15 68.53 L221.32 68.5 L221.49 68.47 L221.66 68.45 L221.84 68.42 L222.01 68.39 L222.18 68.36 L222.35 68.33 L222.53 68.31 L222.7 68.28" stroke="#2ea6a0"/>
<path d="M32.9 69.25 L33.07 69.22 L33.25 69.18 L33.42 69.14 L33.59 69.11 L33.76 69.07 L33.94 69.04 L34.11 69 L34.28 68.96 L34.45 68.93 L34.63 68.89 L34.8 68.86 L34.97 68.82 L35.14 68.79 L35.32 68.75 L35.49 68.72 L35.66 68.68 L35.83 68.65 L36.01 68.61 L36.18 68.58 L36.35 68.54 L36.52 68.51 L36.7 68.47 L36.87 68.44 L37.04 68.4 L37.21 68.37 L37.39 68.33 L37.56 68.3 L37.73 68.26 L37.9 68.23 L38.08 68.2 L38.25 68.16 L38.42 68.13 L38.59 68.09 L38.77 68.06 L38.94 68.03 L39.11 67.99 L39.28 67.96 L39.46 67.92 L39.63 67.89 L39.8 67.86 L39.97 67.82 L40.15 67.79 L40.32 67.76 L40.49 67.72 L40.66 67.69 L40.84 67.66 L41.01 67.62 L41.18 67.59 L41.35 67.56 L41.53 67.53 L41.7 67.49 L41.87 67.46 L42.04 67.43 L42.22 67.39 L42.39 67.36 L42.56 67.33 L42.74 67.3 L42.91 67.26 L43.08 67.23 L43.25 67.2 L43.43 67.17 L43.6 67.14 L43.77 67.1 L43.94 67.07 L44.12 67.04 L44.29 67.01 L44.46 66.98 L44.63 66.94 L44.81 66.91 L44.98 66.88 L45.15 66.85 L45.32 66.82 L45.5 66.79 L45.67 66.76 L45.84 66.72 L46.01 66.69 L46.19 66.66 L46.36 66.63 L46.53 66.6 L46.7 66.57 L46.88 66.54 L47.05 66.51 L47.22 66.48 L47.39 66.45 L47.57 66.41 L47.74 66.38 L47.91 66.35 L48.08 66.32 L48.26 66.29 L48.43 66.26 L48.6 66.23 L48.77 66.2 L48.95 66.17 L49.12 66.14 L49.29 66.11 L49.46 66.08 L49.64 66.05 L49.81 66.02 L49.98 65.99 L50.15 65.96 L50.33 65.93 L50.5 65.9 L50.67 65.87 L50.84 65.84 L51.02 65.81 L51.19 65.78 L51.36 65.76 L51.53 65.73 L51.71 65.7 L51.88 65.67 L52.05 65.64 L52.23 65.61 L52.4 65.58 L52.57 65.55 L52.74 65.52 L52.92 65.49 L53.09 65.47 L53.26 65.44 L53.43 65.41 L53.61 65.38 L53.78 65.35 L53.95 65.32 L54.12 65.29 L54.3 65.27 L54.47 65.24 L54.64 65.21 L54.81 65.18 L54.99 65.15 L55.16 65.12 L55.33 65.1 L55.5 65.07 L55.68 65.04 L55.85 65.01 L56.02 64.98 L56.19 64.96 L56.37 64.93 L56.54 64.9 L56.71 64.87 L56.88 64.85 L57.06 64.82 L57.23 64.79 L57.4 64.76 L57.57 64.74 L57.75 64.71 L57.92 64.68 L58.09 64.66 L58.26 64.63 L58.44 64.6 L58.61 64.57 L58.78 64.55 L58.95 64.52 L59.13 64.49 L59.3 64.47 L59.47 64.44 L59.64 64.41 L59.82 64.39 L59.99 64.36 L60.16 64.33 L60.33 64.31 L60.51 64.28 L60.68 64.25 L60.85 64.23 L61.02 64.2 L61.2 64.18 L61.37 64.15 L61.54 64.12 L61.72 64.1 L61.89 64.07 L62.06 64.05 L62.23 64.02 L62.41 63.99 L62.58 63.97 L62.75 63.94 L62.92 63.92 L63.1 63.89 L63.27 63.87 L63.44 63.84 L63.61 63.81 L63.79 63.79 L63.96 63.76 L64.13 63.74 L64.3 63.71 L64.48 63.69 L64.65 63.66 L64.82 63.64 L64.99 63.61 L65.17 63.59 L65.34 63.56 L65.51 63.54 L65.68 63.51 L65.86 63.49 L66.03 63.46 L66.2 63.44 L66.37 63.41 L66.55 63.39 L66.72 63.37 L66.89 63.34 L67.06 63.32 L67.24 63.29 L67.41 63.27 L67.58 63.24 L67.75 63.22 L67.93 63.19 L68.1 63.17 L68.27 63.15 L68.44 63.12 L68.62 63.1 L68.79 63.07 L68.96 63.05 L69.13 63.03 L69.31 63 L69.48 62.98 L69.65 62.96 L69.82 62.93 L70 62.91 L70.17 62.88 L70.34 62.86 L70.51 62.84 L70.69 62.81 L70.86 62.79 L71.03 62.77 L71.21 62.74 L71.38 62.72 L71.55 62.7 L71.72 62.67 L71.9 62.65 L72.07 62.63 L72.24 62.6 L72.41 62.58 L72.59 62.56 L72.76 62.54 L72.93 62.51 L73.1 62.49 L73.28 62.47 L73.45 62.44 L73.62 62.42 L73.79 62.4 L73.97 62.38 L74.14 62.35 L74.31 62.33 L74.48 62.31 L74.66 62.29 L74.83 62.26 L75 62.24 L75.17 62.22 L75.35 62.2 L75.52 62.18 L75.69 62.15 L75.86 62.13 L76.04 62.11 L76.21 62.09 L76.38 62.07 L76.55 62.04 L76.73 62.02 L76.9 62 L77.07 61.98 L77.24 61.96 L77.42 61.93 L77.59 61.91 L77.76 61.89 L77.93 61.87 L78.11 61.85 L78.28 61.83 L78.45 61.81 L78.62 61.78 L78.8 61.76 L78.97 61.74 L79.14 61.72 L79.31 61.7 L79.49 61.68 L79.66 61.66 L79.83 61.64 L80 61.61 L80.18 61.59 L80.35 61.57 L80.52 61.55 L80.7 61.53 L80.87 61.51 L81.04 61.49 L81.21 61.47 L81.39 61.45 L81.56 61.43 L81.73 61.41 L81.9 61.39 L82.08 61.36 L82.25 61.34 L82.42 61.32 L82.59 61.3 L82.77 61.28 L82.94 61.26 L83.11 61.24 L83.28 61.22 L83.46 61.2 L83.63 61.18 L83.8 61.16 L83.97 61.14 L84.15 61.12 L84.32 61.1 L84.49 61.08 L84.66 61.06 L84.84 61.06 L85.01 64.31 L85.18 67.34 L85.35 70.17 L85.53 72.82 L85.7 75.3 L85.87 77.62 L86.04 79.8 L86.22 81.83 L86.39 83.73 L86.56 85.52 L86.73 87.19 L86.91 88.75 L87.08 90.21 L87.25 91.58 L87.42 92.86 L87.6 94.06 L87.77 95.19 L87.94 96.24 L88.11 97.23 L88.29 98.15 L88.46 99.02 L88.63 99.83 L88.8 100.59 L88.98 101.3 L89.15 101.97 L89.32 102.59 L89.49 103.18 L89.67 103.73 L89.84 104.24 L90.01 104.73 L90.19 105.18 L90.36 105.6 L90.53 106 L90.7 106.38 L90.88 106.73 L91.05 107.06 L91.22 107.37 L91.39 107.66 L91.57 107.93 L91.74 108.19 L91.91 108.43 L92.08 108.66 L92.26 108.87 L92.43 109.07 L92.6 109.26 L92.77 109.44 L92.95 109.6 L93.12 109.76 L93.29 109.91 L93.46 110.05 L93.64 110.18 L93.81 110.31 L93.98 110.43 L94.15 110.54 L94.33 110.65 L94.5 110.75 L94.67 110.84 L94.84 110.93 L95.02 111.02 L95.19 111.1 L95.36 111.17 L95.53 111.25 L95.71 111.32 L95.88 111.38 L96.05 111.44 L96.22 111.5 L96.4 111.56 L96.57 111.62 L96.74 111.67 L96.91 111.72 L97.09 111.77 L97.26 111.81 L97.43 111.86 L97.6 111.9 L97.78 111.94 L97.95 111.98 L98.12 112.02 L98.29 112.06 L98.47 112.09 L98.64 112.13 L98.81 112.16 L98.98 112.19 L99.16 112.22 L99.33 112.25 L99.5 112.28 L99.68 112.31 L99.85 112.34 L100.02 112.37 L100.19 112.4 L100.37 112.42 L100.54 112.45 L100.71 112.47 L100.88 112.5 L101.06 112.52 L101.23 112.55 L101.4 112.57 L101.57 112.59 L101.75 112.62 L101.92 112.64 L102.09 112.66 L102.26 112.68 L102.44 112.71 L102.61 112.73 L102.78 112.75 L102.95 112.77 L103.13 112.79 L103.3 112.81 L103.47 112.83 L103.64 112.85 L103.82 112.87 L103.99 112.89 L104.16 112.91 L104.33 112.93 L104.51 112.95 L104.68 112.97 L104.85 112.99 L105.02 113.01 L105.2 113.03 L105.37 113.05 L105.54 113.07 L105.71 113.09 L105.89 113.11 L106.06 113.12 L106.23 113.14 L106.4 113.16 L106.58 113.18 L106.75 113.2 L106.92 113.22 L107.09 113.24 L107.27 113.25 L107.44 113.27 L107.61 113.29 L107.78 113.31 L107.96 113.33 L108.13 113.35 L108.3 113.36 L108.47 113.38 L108.65 113.4 L108.82 113.42 L108.99 113.44 L109.17 113.46 L109.34 113.47 L109.51 113.49 L109.68 113.51 L109.86 113.53 L110.03 113.55 L110.2 113.56 L110.37 113.58 L110.55 113.6 L110.72 113.62 L110.89 113.64 L111.06 113.66 L111.24 113.67 L111.41 113.69 L111.58 113.71 L111.75 113.73 L111.93 113.75 L112.1 113.76 L112.27 113.78 L112.44 113.8 L112.62 113.82 L112.79 113.84 L112.96 113.85 L113.13 113.87 L113.31 113.89 L113.48 113.91 L113.65 113.92 L113.82 113.94 L114 113.96 L114.17 113.98 L114.34 114 L114.51 114.01 L114.69 114.03 L114.86 114.05 L115.03 114.07 L115.2 114.09 L115.38 114.1 L115.55 114.12 L115.72 114.14 L115.89 114.16 L116.07 114.18 L116.24 114.19 L116.41 114.21 L116.58 114.23 L116.76 114.25 L116.93 114.27 L117.1 114.28 L117.27 114.3 L117.45 114.32 L117.62 114.34 L117.79 114.36 L117.96 114.37 L118.14 114.39 L118.31 114.41 L118.48 114.43 L118.66 114.44 L118.83 114.46 L119 114.48 L119.17 114.5 L119.35 114.52 L119.52 114.53 L119.69 114.55 L119.86 114.57 L120.04 114.59 L120.21 114.61 L120.38 114.62 L120.55 114.64 L120.73 114.66 L120.9 114.68 L121.07 114.7 L121.24 114.71 L121.42 114.73 L121.59 114.75 L121.76 114.77 L121.93 114.79 L122.11 114.8 L122.28 114.82 L122.45 114.84 L122.62 114.86 L122.8 114.87 L122.97 114.89 L123.14 114.91 L123.31 114.93 L123.49 114.95 L123.66 114.96 L123.83 114.98 L124 115 L124.18 115.02 L124.35 115.04 L124.52 115.05 L124.69 115.07 L124.87 115.09 L125.04 115.11 L125.21 115.13 L125.38 115.14 L125.56 115.16 L125.73 115.18 L125.9 115.2 L126.07 115.21 L126.25 115.23 L126.42 115.25 L126.59 115.27 L126.76 115.29 L126.94 115.3 L127.11 115.32 L127.28 115.34 L127.45 115.36 L127.63 115.38 L127.8 115.39 L127.97 115.41 L128.15 115.43 L128.32 115.45 L128.49 115.47 L128.66 115.48 L128.84 115.5 L129.01 115.52 L129.18 115.54 L129.35 115.56 L129.53 115.57 L129.7 115.59 L129.87 115.61 L130.04 115.63 L130.22 115.64 L130.39 115.66 L130.56 115.68 L130.73 115.7 L130.91 115.72 L131.08 115.73 L131.25 115.75 L131.42 115.77 L131.6 115.79 L131.77 115.81 L131.94 115.82 L132.11 115.84 L132.29 115.86 L132.46 115.88 L132.63 115.9 L132.8 115.91 L132.98 115.93 L133.15 115.95 L133.32 115.97 L133.49 115.98 L133.67 116 L133.84 116.02 L134.01 116.04 L134.18 116.06 L134.36 116.07 L134.53 116.09 L134.7 116.11 L134.87 116.13 L135.05 116.15 L135.22 116.16 L135.39 116.18 L135.56 116.2 L135.74 116.22 L135.91 116.24 L136.08 116.25 L136.25 116.27 L136.43 116.29 L136.6 116.31 L136.77 116.33 L136.94 116.34 L137.12 116.36 L137.29 116.38 L137.46 116.4 L137.64 116.41 L137.81 116.43 L137.98 116.45 L138.15 116.47 L138.33 116.49 L138.5 116.5 L138.67 116.52 L138.84 116.54 L139.02 116.56 L139.19 116.58 L139.36 116.59 L139.53 116.61 L139.71 116.63 L139.88 116.65 L140.05 116.67 L140.22 116.68 L140.4 116.7 L140.57 116.72 L140.74 116.74 L140.91 116.75 L141.09 116.77 L141.26 116.79 L141.43 116.81 L141.6 116.83 L141.78 116.84 L141.95 116.86 L142.12 116.88 L142.29 116.9 L142.47 116.92 L142.64 116.93 L142.81 116.95 L142.98 116.97 L143.16 116.99 L143.33 117.01 L143.5 117.02 L143.67 117.04 L143.85 117.06 L144.02 117.08 L144.19 117.1 L144.36 117.11 L144.54 117.13 L144.71 117.15 L144.88 117.17 L145.05 117.18 L145.23 117.2 L145.4 117.22 L145.57 117.24 L145.74 117.26 L145.92 117.27 L146.09 117.29 L146.26 117.31 L146.43 117.33 L146.61 117.35 L146.78 117.36 L146.95 117.38 L147.13 117.4 L147.3 117.42 L147.47 117.44 L147.64 117.45 L147.82 117.47 L147.99 117.49 L148.16 117.51 L148.33 117.52 L148.51 117.54 L148.68 117.56 L148.85 117.58 L149.02 117.6 L149.2 117.61 L149.37 117.63 L149.54 117.65 L149.71 117.67 L149.89 117.69 L150.06 117.7 L150.23 117.72 L150.4 117.74 L150.58 117.76 L150.75 117.78 L150.92 117.79 L151.09 117.81 L151.27 117.83 L151.44 117.85 L151.61 117.87 L151.78 117.88 L151.96 117.9 L152.13 117.92 L152.3 117.94 L152.47 117.95 L152.65 117.97 L152.82 117.99 L152.99 118.01 L153.16 118.03 L153.34 118.04 L153.51 118.06 L153.68 118.08 L153.85 118.1 L154.03 118.12 L154.2 118.13 L154.37 118.15 L154.54 118.17 L154.72 118.19 L154.89 118.21 L155.06 118.22 L155.23 118.24 L155.41 118.26 L155.58 118.28 L155.75 118.29 L155.92 118.31 L156.1 118.33 L156.27 118.35 L156.44 118.37 L156.62 118.38 L156.79 118.4 L156.96 118.42 L157.13 118.44 L157.31 118.46 L157.48 118.47 L157.65 118.49 L157.82 118.51 L158 118.53 L158.17 118.55 L158.34 118.56 L158.51 118.58 L158.69 118.6 L158.86 118.62 L159.03 118.64 L159.2 118.65 L159.38 118.67 L159.55 118.69 L159.72 118.71 L159.89 118.72 L160.07 118.74 L160.24 118.76 L160.41 118.78 L160.58 118.8 L160.76 118.81 L160.93 118.83 L161.1 118.85 L161.27 118.87 L161.45 118.89 L161.62 118.9 L161.79 118.92 L161.96 118.94 L162.14 118.96 L162.31 118.98 L162.48 118.99 L162.65 119.01 L162.83 119.03 L163 119.05 L163.17 119.06 L163.34 119.08 L163.52 119.1 L163.69 119.12 L163.86 119.14 L164.03 119.15 L164.21 119.17 L164.38 119.19 L164.55 119.21 L164.72 119.23 L164.9 119.24 L165.07 119.26 L165.24 119.28 L165.41 119.3 L165.59 119.32 L165.76 119.33 L165.93 119.35 L166.11 119.37 L166.28 119.39 L166.45 119.41 L166.62 119.42 L166.8 119.44 L166.97 119.46 L167.14 119.48 L167.31 119.49 L167.49 119.51 L167.66 119.53 L167.83 119.55 L168 119.57 L168.18 119.58 L168.35 119.6 L168.52 119.62 L168.69 119.64 L168.87 119.66 L169.04 119.67 L169.21 119.69 L169.38 119.71 L169.56 119.73 L169.73 119.75 L169.9 119.76 L170.07 119.78 L170.25 119.8 L170.42 119.82 L170.59 119.83 L170.76 119.85 L170.94 119.87 L171.11 114.46 L171.28 109.97 L171.45 106.25 L171.63 103.15 L171.8 100.55 L171.97 98.38 L172.14 96.55 L172.32 95 L172.49 93.68 L172.66 92.56 L172.83 91.59 L173.01 90.74 L173.18 90.01 L173.35 89.36 L173.52 88.78 L173.7 88.26 L173.87 87.79 L174.04 87.36 L174.21 86.97 L174.39 86.6 L174.56 86.26 L174.73 85.94 L174.9 85.63 L175.08 85.34 L175.25 85.06 L175.42 84.79 L175.6 84.53 L175.77 84.28 L175.94 84.04 L176.11 83.8 L176.29 83.57 L176.46 83.34 L176.63 83.11 L176.8 82.9 L176.98 82.68 L177.15 82.47 L177.32 82.26 L177.49 82.06 L177.67 81.85 L177.84 81.65 L178.01 81.46 L178.18 81.26 L178.36 81.07 L178.53 80.88 L178.7 80.7 L178.87 80.52 L179.05 80.33 L179.22 80.16 L179.39 79.98 L179.56 79.8 L179.74 79.63 L179.91 79.46 L180.08 79.29 L180.25 79.13 L180.43 78.96 L180.6 78.8 L180.77 78.64 L180.94 78.49 L181.12 78.33 L181.29 78.18 L181.46 78.02 L181.63 77.87 L181.81 77.72 L181.98 77.58 L182.15 77.43 L182.32 77.29 L182.5 77.15 L182.67 77.01 L182.84 76.87 L183.01 76.74 L183.19 76.6 L183.36 76.47 L183.53 76.34 L183.7 76.21 L183.88 76.08 L184.05 75.95 L184.22 75.83 L184.39 75.71 L184.57 75.58 L184.74 75.46 L184.91 75.35 L185.09 75.23 L185.26 75.11 L185.43 75 L185.6 74.89 L185.78 74.77 L185.95 74.66 L186.12 74.55 L186.29 74.45 L186.47 74.34 L186.64 74.24 L186.81 74.13 L186.98 74.03 L187.16 73.93 L187.33 73.83 L187.5 73.73 L187.67 73.63 L187.85 73.54 L188.02 73.44 L188.19 73.35 L188.36 73.25 L188.54 73.16 L188.71 73.07 L188.88 72.98 L189.05 72.89 L189.23 72.81 L189.4 72.72 L189.57 72.64 L189.74 72.55 L189.92 72.47 L190.09 72.39 L190.26 72.31 L190.43 72.23 L190.61 72.15 L190.78 72.07 L190.95 71.99 L191.12 71.92 L191.3 71.84 L191.47 71.77 L191.64 71.69 L191.81 71.62 L191.99 71.55 L192.16 71.48 L192.33 71.41 L192.5 71.34 L192.68 71.27 L192.85 71.2 L193.02 71.14 L193.19 71.07 L193.37 71.01 L193.54 70.94 L193.71 70.88 L193.88 70.82 L194.06 70.76 L194.23 70.69 L194.4 70.63 L194.58 70.57 L194.75 70.52 L194.92 70.46 L195.09 70.4 L195.27 70.34 L195.44 70.29 L195.61 70.23 L195.78 70.18 L195.96 70.12 L196.13 70.07 L196.3 70.02 L196.47 69.97 L196.65 69.91 L196.82 69.86 L196.99 69.81 L197.16 69.76 L197.34 69.72 L197.51 69.67 L197.68 69.62 L197.85 69.57 L198.03 69.53 L198.2 69.48 L198.37 69.44 L198.54 69.39 L198.72 69.35 L198.89 69.3 L199.06 69.26 L199.23 69.22 L199.41 69.17 L199.58 69.13 L199.75 69.09 L199.92 69.05 L200.1 69.01 L200.27 68.97 L200.44 68.93 L200.61 68.89 L200.79 68.86 L200.96 68.82 L201.13 68.78 L201.3 68.74 L201.48 68.71 L201.65 68.67 L201.82 68.64 L201.99 68.6 L202.17 68.57 L202.34 68.53 L202.51 68.5 L202.68 68.47 L202.86 68.43 L203.03 68.4 L203.2 68.37 L203.37 68.34 L203.55 68.31 L203.72 68.27 L203.89 68.24 L204.07 68.21 L204.24 68.18 L204.41 68.15 L204.58 68.13 L204.76 68.1 L204.93 68.07 L205.1 68.04 L205.27 68.01 L205.45 67.99 L205.62 67.96 L205.79 67.93 L205.96 67.91 L206.14 67.88 L206.31 67.85 L206.48 67.83 L206.65 67.8 L206.83 67.78 L207 67.75 L207.17 67.73 L207.34 67.71 L207.52 67.68 L207.69 67.66 L207.86 67.64 L208.03 67.61 L208.21 67.59 L208.38 67.57 L208.55 67.55 L208.72 67.53 L208.9 67.5 L209.07 67.48 L209.24 67.46 L209.41 67.44 L209.59 67.42 L209.76 67.4 L209.93 67.38 L210.1 67.36 L210.28 67.34 L210.45 67.32 L210.62 67.3 L210.79 67.29 L210.97 67.27 L211.14 67.25 L211.31 67.23 L211.48 67.21 L211.66 67.2 L211.83 67.18 L212 67.16 L212.17 67.15 L212.35 67.13 L212.52 67.11 L212.69 67.1 L212.86 67.08 L213.04 67.06 L213.21 67.05 L213.38 67.03 L213.56 67.02 L213.73 67 L213.9 66.99 L214.07 66.97 L214.25 66.96 L214.42 66.94 L214.59 66.93 L214.76 66.92 L214.94 66.9 L215.11 66.89 L215.28 66.87 L215.45 66.86 L215.63 66.85 L215.8 66.83 L215.97 66.82 L216.14 66.81 L216.32 66.8 L216.49 66.78 L216.66 66.77 L216.83 66.76 L217.01 66.75 L217.18 66.74 L217.35 66.72 L217.52 66.71 L217.7 66.7 L217.87 66.69 L218.04 66.68 L218.21 66.67 L218.39 66.66 L218.56 66.65 L218.73 66.64 L218.9 66.63 L219.08 66.62 L219.25 66.61 L219.42 66.6 L219.59 66.59 L219.77 66.58 L219.94 66.57 L220.11 66.56 L220.28 66.55 L220.46 66.54 L220.63 66.53 L220.8 66.52 L220.97 66.51 L221.15 66.5 L221.32 66.49 L221.49 66.48 L221.66 66.48 L221.84 66.47 L222.01 66.46 L222.18 66.45 L222.35 66.44 L222.53 66.43 L222.7 66.43" stroke="#4c78ae"/>
<path d="M32.9 80.3 L33.07 80.2 L33.25 80.1 L33.42 80 L33.59 79.9 L33.76 79.8 L33.94 79.7 L34.11 79.6 L34.28 79.5 L34.45 79.4 L34.63 79.3 L34.8 79.21 L34.97 79.11 L35.14 79.01 L35.32 78.91 L35.49 78.82 L35.66 78.72 L35.83 78.63 L36.01 78.53 L36.18 78.43 L36.35 78.34 L36.52 78.24 L36.7 78.15 L36.87 78.06 L37.04 77.96 L37.21 77.87 L37.39 77.78 L37.56 77.68 L37.73 77.59 L37.9 77.5 L38.08 77.41 L38.25 77.31 L38.42 77.22 L38.59 77.13 L38.77 77.04 L38.94 76.95 L39.11 76.86 L39.28 76.77 L39.46 76.68 L39.63 76.59 L39.8 76.5 L39.97 76.41 L40.15 76.33 L40.32 76.24 L40.49 76.15 L40.66 76.06 L40.84 75.98 L41.01 75.89 L41.18 75.8 L41.35 75.72 L41.53 75.63 L41.7 75.54 L41.87 75.46 L42.04 75.37 L42.22 75.29 L42.39 75.2 L42.56 75.12 L42.74 75.03 L42.91 74.95 L43.08 74.87 L43.25 74.78 L43.43 74.7 L43.6 74.62 L43.77 74.54 L43.94 74.45 L44.12 74.37 L44.29 74.29 L44.46 74.21 L44.63 74.13 L44.81 74.05 L44.98 73.97 L45.15 73.89 L45.32 73.81 L45.5 73.73 L45.67 73.65 L45.84 73.57 L46.01 73.49 L46.19 73.41 L46.36 73.33 L46.53 73.26 L46.7 73.18 L46.88 73.1 L47.05 73.02 L47.22 72.95 L47.39 72.87 L47.57 72.79 L47.74 72.72 L47.91 72.64 L48.08 72.56 L48.26 72.49 L48.43 72.41 L48.6 72.34 L48.77 72.26 L48.95 72.19 L49.12 72.11 L49.29 72.04 L49.46 71.97 L49.64 71.89 L49.81 71.82 L49.98 71.75 L50.15 71.67 L50.33 71.6 L50.5 71.53 L50.67 71.46 L50.84 71.38 L51.02 71.31 L51.19 71.24 L51.36 71.17 L51.53 71.1 L51.71 71.03 L51.88 70.96 L52.05 70.89 L52.23 70.82 L52.4 70.75 L52.57 70.68 L52.74 70.61 L52.92 70.54 L53.09 70.47 L53.26 70.4 L53.43 70.34 L53.61 70.27 L53.78 70.2 L53.95 70.13 L54.12 70.06 L54.3 70 L54.47 69.93 L54.64 69.86 L54.81 69.8 L54.99 69.73 L55.16 69.66 L55.33 69.6 L55.5 69.53 L55.68 69.47 L55.85 69.4 L56.02 69.34 L56.19 69.27 L56.37 69.21 L56.54 69.14 L56.71 69.08 L56.88 69.02 L57.06 68.95 L57.23 68.89 L57.4 68.82 L57.57 68.76 L57.75 68.7 L57.92 68.64 L58.09 68.57 L58.26 68.51 L58.44 68.45 L58.61 68.39 L58.78 68.33 L58.95 68.26 L59.13 68.2 L59.3 68.14 L59.47 68.08 L59.64 68.02 L59.82 67.96 L59.99 67.9 L60.16 67.84 L60.33 67.78 L60.51 67.72 L60.68 67.66 L60.85 67.6 L61.02 67.54 L61.2 67.48 L61.37 67.43 L61.54 67.37 L61.72 67.31 L61.89 67.25 L62.06 67.19 L62.23 67.13 L62.41 67.08 L62.58 67.02 L62.75 66.96 L62.92 66.91 L63.1 66.85 L63.27 66.79 L63.44 66.74 L63.61 66.68 L63.79 66.62 L63.96 66.57 L64.13 66.51 L64.3 66.46 L64.48 66.4 L64.65 66.35 L64.82 66.29 L64.99 66.24 L65.17 66.18 L65.34 66.13 L65.51 66.08 L65.68 66.02 L65.86 65.97 L66.03 65.91 L66.2 65.86 L66.37 65.81 L66.55 65.75 L66.72 65.7 L66.89 65.65 L67.06 65.6 L67.24 65.54 L67.41 65.49 L67.58 65.44 L67.75 65.39 L67.93 65.34 L68.1 65.28 L68.27 65.23 L68.44 65.18 L68.62 65.13 L68.79 65.08 L68.96 65.03 L69.13 64.98 L69.31 64.93 L69.48 64.88 L69.65 64.83 L69.82 64.78 L70 64.73 L70.17 64.68 L70.34 64.63 L70.51 64.58 L70.69 64.53 L70.86 64.48 L71.03 64.43 L71.21 64.39 L71.38 64.34 L71.55 64.29 L71.72 64.24 L71.9 64.19 L72.07 64.15 L72.24 64.1 L72.41 64.05 L72.59 64 L72.76 63.96 L72.93 63.91 L73.1 63.86 L73.28 63.82 L73.45 63.77 L73.62 63.72 L73.79 63.68 L73.97 63.63 L74.14 63.59 L74.31 63.54 L74.48 63.5 L74.66 63.45 L74.83 63.4 L75 63.36 L75.17 63.31 L75.35 63.27 L75.52 63.23 L75.69 63.18 L75.86 63.14 L76.04 63.09 L76.21 63.05 L76.38 63 L76.55 62.96 L76.73 62.92 L76.9 62.87 L77.07 62.83 L77.24 62.79 L77.42 62.74 L77.59 62.7 L77.76 62.66 L77.93 62.62 L78.11 62.57 L78.28 62.53 L78.45 62.49 L78.62 62.45 L78.8 62.41 L78.97 62.36 L79.14 62.32 L79.31 62.28 L79.49 62.24 L79.66 62.2 L79.83 62.16 L80 62.12 L80.18 62.08 L80.35 62.03 L80.52 61.99 L80.7 61.95 L80.87 61.91 L81.04 61.87 L81.21 61.83 L81.39 61.79 L81.56 61.75 L81.73 61.71 L81.9 61.67 L82.08 61.64 L82.25 61.6 L82.42 61.56 L82.59 61.52 L82.77 61.48 L82.94 61.44 L83.11 61.4 L83.28 61.36 L83.46 61.33 L83.63 61.29 L83.8 61.25 L83.97 61.21 L84.15 61.17 L84.32 61.14 L84.49 61.1 L84.66 61.06 L84.84 61.06 L85.01 64.25 L85.18 67.27 L85.35 70.15 L85.53 72.92 L85.7 75.56 L85.87 78.09 L86.04 80.52 L86.22 82.83 L86.39 85.05 L86.56 87.18 L86.73 89.21 L86.91 91.16 L87.08 93.02 L87.25 94.81 L87.42 96.52 L87.6 98.15 L87.77 99.72 L87.94 101.22 L88.11 102.66 L88.29 104.03 L88.46 105.35 L88.63 106.61 L88.8 107.82 L88.98 108.98 L89.15 110.09 L89.32 111.15 L89.49 112.17 L89.67 113.14 L89.84 114.08 L90.01 114.97 L90.19 115.83 L90.36 116.65 L90.53 117.44 L90.7 118.2 L90.88 118.92 L91.05 119.62 L91.22 120.28 L91.39 120.92 L91.57 121.53 L91.74 122.12 L91.91 122.68 L92.08 123.22 L92.26 123.74 L92.43 124.24 L92.6 124.72 L92.77 125.18 L92.95 125.62 L93.12 126.04 L93.29 126.45 L93.46 126.84 L93.64 127.21 L93.81 127.57 L93.98 127.92 L94.15 128.25 L94.33 128.57 L94.5 128.88 L94.67 129.17 L94.84 129.45 L95.02 129.73 L95.19 129.99 L95.36 130.25 L95.53 130.49 L95.71 130.72 L95.88 130.95 L96.05 131.17 L96.22 131.38 L96.4 131.58 L96.57 131.78 L96.74 131.97 L96.91 132.15 L97.09 132.32 L97.26 132.49 L97.43 132.66 L97.6 132.82 L97.78 132.97 L97.95 133.12 L98.12 133.26 L98.29 133.4 L98.47 133.53 L98.64 133.66 L98.81 133.79 L98.98 133.91 L99.16 134.03 L99.33 134.14 L99.5 134.26 L99.68 134.36 L99.85 134.47 L100.02 134.57 L100.19 134.67 L100.37 134.77 L100.54 134.86 L100.71 134.95 L100.88 135.04 L101.06 135.13 L101.23 135.21 L101.4 135.3 L101.57 135.38 L101.75 135.46 L101.92 135.53 L102.09 135.61 L102.26 135.68 L102.44 135.75 L102.61 135.82 L102.78 135.89 L102.95 135.96 L103.13 136.03 L103.3 136.09 L103.47 136.15 L103.64 136.22 L103.82 136.28 L103.99 136.34 L104.16 136.4 L104.33 136.46 L104.51 136.51 L104.68 136.57 L104.85 136.63 L105.02 136.68 L105.2 136.74 L105.37 136.79 L105.54 136.84 L105.71 136.89 L105.89 136.95 L106.06 137 L106.23 137.05 L106.4 137.1 L106.58 137.14 L106.75 137.19 L106.92 137.24 L107.09 137.29 L107.27 137.34 L107.44 137.38 L107.61 137.43 L107.78 137.47 L107.96 137.52 L108.13 137.56 L108.3 137.61 L108.47 137.65 L108.65 137.7 L108.82 137.74 L108.99 137.78 L109.17 137.83 L109.34 137.87 L109.51 137.91 L109.68 137.96 L109.86 138 L110.03 138.04 L110.2 138.08 L110.37 138.12 L110.55 138.16 L110.72 138.21 L110.89 138.25 L111.06 138.29 L111.24 138.33 L111.41 138.37 L111.58 138.41 L111.75 138.45 L111.93 138.49 L112.1 138.53 L112.27 138.57 L112.44 138.61 L112.62 138.65 L112.79 138.69 L112.96 138.73 L113.13 138.77 L113.31 138.8 L113.48 138.84 L113.65 138.88 L113.82 138.92 L114 138.96 L114.17 139 L114.34 139.04 L114.51 139.08 L114.69 139.11 L114.86 139.15 L115.03 139.19 L115.2 139.23 L115.38 139.27 L115.55 139.31 L115.72 139.34 L115.89 139.38 L116.07 139.42 L116.24 139.46 L116.41 139.5 L116.58 139.53 L116.76 139.57 L116.93 139.61 L117.1 139.65 L117.27 139.68 L117.45 139.72 L117.62 139.76 L117.79 139.8 L117.96 139.83 L118.14 139.87 L118.31 139.91 L118.48 139.95 L118.66 139.98 L118.83 140.02 L119 140.06 L119.17 140.1 L119.35 140.13 L119.52 140.17 L119.69 140.21 L119.86 140.25 L120.04 140.28 L120.21 140.32 L120.38 140.36 L120.55 140.4 L120.73 140.43 L120.9 140.47 L121.07 140.51 L121.24 140.54 L121.42 140.58 L121.59 140.62 L121.76 140.66 L121.93 140.69 L122.11 140.73 L122.28 140.77 L122.45 140.81 L122.62 140.84 L122.8 140.88 L122.97 140.92 L123.14 140.95 L123.31 140.99 L123.49 141.03 L123.66 141.07 L123.83 141.1 L124 141.14 L124.18 141.18 L124.35 141.21 L124.52 141.25 L124.69 141.29 L124.87 141.32 L125.04 141.36 L125.21 141.4 L125.38 141.44 L125.56 141.47 L125.73 141.51 L125.9 141.55 L126.07 141.58 L126.25 141.62 L126.42 141.66 L126.59 141.7 L126.76 141.73 L126.94 141.77 L127.11 141.81 L127.28 141.84 L127.45 141.88 L127.63 141.92 L127.8 141.95 L127.97 141.99 L128.15 142.03 L128.32 142.07 L128.49 142.1 L128.66 142.14 L128.84 142.18 L129.01 142.21 L129.18 142.25 L129.35 142.29 L129.53 142.32 L129.7 142.36 L129.87 142.4 L130.04 142.44 L130.22 142.47 L130.39 142.51 L130.56 142.55 L130.73 142.58 L130.91 142.62 L131.08 142.66 L131.25 142.69 L131.42 142.73 L131.6 142.77 L131.77 142.81 L131.94 142.84 L132.11 142.88 L132.29 142.92 L132.46 142.95 L132.63 142.99 L132.8 143.03 L132.98 143.06 L133.15 143.1 L133.32 143.14 L133.49 143.17 L133.67 143.21 L133.84 143.25 L134.01 143.29 L134.18 143.32 L134.36 143.36 L134.53 143.4 L134.7 143.43 L134.87 143.47 L135.05 143.51 L135.22 143.54 L135.39 143.58 L135.56 143.62 L135.74 143.66 L135.91 143.69 L136.08 143.73 L136.25 143.77 L136.43 143.8 L136.6 143.84 L136.77 143.88 L136.94 143.91 L137.12 143.95 L137.29 143.99 L137.46 144.02 L137.64 144.06 L137.81 144.1 L137.98 144.14 L138.15 144.17 L138.33 144.21 L138.5 144.25 L138.67 144.28 L138.84 144.32 L139.02 144.36 L139.19 144.39 L139.36 144.43 L139.53 144.47 L139.71 144.51 L139.88 144.54 L140.05 144.58 L140.22 144.62 L140.4 144.65 L140.57 144.69 L140.74 144.73 L140.91 144.76 L141.09 144.8 L141.26 144.84 L141.43 144.87 L141.6 144.91 L141.78 144.95 L141.95 144.99 L142.12 145.02 L142.29 145.06 L142.47 145.1 L142.64 145.13 L142.81 145.17 L142.98 145.21 L143.16 145.24 L143.33 145.28 L143.5 145.32 L143.67 145.36 L143.85 145.39 L144.02 145.43 L144.19 145.47 L144.36 145.5 L144.54 145.54 L144.71 145.58 L144.88 145.61 L145.05 145.65 L145.23 145.69 L145.4 145.73 L145.57 145.76 L145.74 145.8 L145.92 145.84 L146.09 145.87 L146.26 145.91 L146.43 145.95 L146.61 145.98 L146.78 146.02 L146.95 146.06 L147.13 146.09 L147.3 146.13 L147.47 146.17 L147.64 146.21 L147.82 146.24 L147.99 146.28 L148.16 146.32 L148.33 146.35 L148.51 146.39 L148.68 146.43 L148.85 146.46 L149.02 146.5 L149.2 146.54 L149.37 146.58 L149.54 146.61 L149.71 146.65 L149.89 146.69 L150.06 146.72 L150.23 146.76 L150.4 146.8 L150.58 146.83 L150.75 146.87 L150.92 146.91 L151.09 146.94 L151.27 146.98 L151.44 147.02 L151.61 147.06 L151.78 147.09 L151.96 147.13 L152.13 147.17 L152.3 147.2 L152.47 147.24 L152.65 147.28 L152.82 147.31 L152.99 147.35 L153.16 147.39 L153.34 147.43 L153.51 147.46 L153.68 147.5 L153.85 147.54 L154.03 147.57 L154.2 147.61 L154.37 147.65 L154.54 147.68 L154.72 147.72 L154.89 147.76 L155.06 147.79 L155.23 147.83 L155.41 147.87 L155.58 147.91 L155.75 147.94 L155.92 147.98 L156.1 148.02 L156.27 148.05 L156.44 148.09 L156.62 148.13 L156.79 148.16 L156.96 148.2 L157.13 148.24 L157.31 148.28 L157.48 148.31 L157.65 148.35 L157.82 148.39 L158 148.42 L158.17 148.46 L158.34 148.5 L158.51 148.53 L158.69 148.57 L158.86 148.61 L159.03 148.64 L159.2 148.68 L159.38 148.72 L159.55 148.76 L159.72 148.79 L159.89 148.83 L160.07 148.87 L160.24 148.9 L160.41 148.94 L160.58 148.98 L160.76 149.01 L160.93 149.05 L161.1 149.09 L161.27 149.13 L161.45 149.16 L161.62 149.2 L161.79 149.24 L161.96 149.27 L162.14 149.31 L162.31 149.35 L162.48 149.38 L162.65 149.42 L162.83 149.46 L163 149.49 L163.17 149.53 L163.34 149.57 L163.52 149.61 L163.69 149.64 L163.86 149.68 L164.03 149.72 L164.21 149.75 L164.38 149.79 L164.55 149.83 L164.72 149.86 L164.9 149.9 L165.07 149.94 L165.24 149.98 L165.41 150.01 L165.59 150.05 L165.76 150.09 L165.93 150.12 L166.11 150.16 L166.28 150.2 L166.45 150.23 L166.62 150.27 L166.8 150.31 L166.97 150.34 L167.14 150.38 L167.31 150.42 L167.49 150.46 L167.66 150.49 L167.83 150.53 L168 150.57 L168.18 150.6 L168.35 150.64 L168.52 150.68 L168.69 150.71 L168.87 150.75 L169.04 150.79 L169.21 150.83 L169.38 150.86 L169.56 150.9 L169.73 150.94 L169.9 150.97 L170.07 151.01 L170.25 151.05 L170.42 151.08 L170.59 151.12 L170.76 151.16 L170.94 151.19 L171.11 148.58 L171.28 146.11 L171.45 143.77 L171.63 141.55 L171.8 139.44 L171.97 137.45 L172.14 135.56 L172.32 133.76 L172.49 132.05 L172.66 130.43 L172.83 128.89 L173.01 127.42 L173.18 126.02 L173.35 124.7 L173.52 123.43 L173.7 122.22 L173.87 121.07 L174.04 119.97 L174.21 118.92 L174.39 117.92 L174.56 116.96 L174.73 116.04 L174.9 115.16 L175.08 114.32 L175.25 113.51 L175.42 112.73 L175.6 111.99 L175.77 111.27 L175.94 110.58 L176.11 109.92 L176.29 109.28 L176.46 108.67 L176.63 108.07 L176.8 107.5 L176.98 106.95 L177.15 106.41 L177.32 105.89 L177.49 105.39 L177.67 104.9 L177.84 104.43 L178.01 103.98 L178.18 103.53 L178.36 103.1 L178.53 102.68 L178.7 102.27 L178.87 101.87 L179.05 101.48 L179.22 101.1 L179.39 100.73 L179.56 100.37 L179.74 100.02 L179.91 99.67 L180.08 99.34 L180.25 99 L180.43 98.68 L180.6 98.36 L180.77 98.05 L180.94 97.75 L181.12 97.45 L181.29 97.15 L181.46 96.86 L181.63 96.58 L181.81 96.3 L181.98 96.02 L182.15 95.75 L182.32 95.49 L182.5 95.22 L182.67 94.96 L182.84 94.71 L183.01 94.46 L183.19 94.21 L183.36 93.96 L183.53 93.72 L183.7 93.48 L183.88 93.25 L184.05 93.01 L184.22 92.78 L184.39 92.56 L184.57 92.33 L184.74 92.11 L184.91 91.89 L185.09 91.67 L185.26 91.46 L185.43 91.25 L185.6 91.03 L185.78 90.83 L185.95 90.62 L186.12 90.42 L186.29 90.21 L186.47 90.01 L186.64 89.81 L186.81 89.62 L186.98 89.42 L187.16 89.23 L187.33 89.04 L187.5 88.85 L187.67 88.66 L187.85 88.48 L188.02 88.29 L188.19 88.11 L188.36 87.93 L188.54 87.75 L188.71 87.57 L188.88 87.39 L189.05 87.22 L189.23 87.04 L189.4 86.87 L189.57 86.7 L189.74 86.53 L189.92 86.36 L190.09 86.19 L190.26 86.03 L190.43 85.86 L190.61 85.7 L190.78 85.54 L190.95 85.38 L191.12 85.22 L191.3 85.06 L191.47 84.91 L191.64 84.75 L191.81 84.6 L191.99 84.44 L192.16 84.29 L192.33 84.14 L192.5 83.99 L192.68 83.84 L192.85 83.69 L193.02 83.55 L193.19 83.4 L193.37 83.26 L193.54 83.11 L193.71 82.97 L193.88 82.83 L194.06 82.69 L194.23 82.55 L194.4 82.41 L194.58 82.28 L194.75 82.14 L194.92 82.01 L195.09 81.87 L195.27 81.74 L195.44 81.61 L195.61 81.48 L195.78 81.35 L195.96 81.22 L196.13 81.09 L196.3 80.96 L196.47 80.84 L196.65 80.71 L196.82 80.59 L196.99 80.46 L197.16 80.34 L197.34 80.22 L197.51 80.1 L197.68 79.98 L197.85 79.86 L198.03 79.74 L198.2 79.63 L198.37 79.51 L198.54 79.39 L198.72 79.28 L198.89 79.17 L199.06 79.05 L199.23 78.94 L199.41 78.83 L199.58 78.72 L199.75 78.61 L199.92 78.5 L200.1 78.39 L200.27 78.28 L200.44 78.18 L200.61 78.07 L200.79 77.97 L200.96 77.86 L201.13 77.76 L201.3 77.65 L201.48 77.55 L201.65 77.45 L201.82 77.35 L201.99 77.25 L202.17 77.15 L202.34 77.05 L202.51 76.96 L202.68 76.86 L202.86 76.76 L203.03 76.67 L203.2 76.57 L203.37 76.48 L203.55 76.38 L203.72 76.29 L203.89 76.2 L204.07 76.11 L204.24 76.02 L204.41 75.93 L204.58 75.84 L204.76 75.75 L204.93 75.66 L205.1 75.57 L205.27 75.48 L205.45 75.4 L205.62 75.31 L205.79 75.23 L205.96 75.14 L206.14 75.06 L206.31 74.98 L206.48 74.89 L206.65 74.81 L206.83 74.73 L207 74.65 L207.17 74.57 L207.34 74.49 L207.52 74.41 L207.69 74.33 L207.86 74.25 L208.03 74.17 L208.21 74.1 L208.38 74.02 L208.55 73.95 L208.72 73.87 L208.9 73.8 L209.07 73.72 L209.24 73.65 L209.41 73.57 L209.59 73.5 L209.76 73.43 L209.93 73.36 L210.1 73.29 L210.28 73.22 L210.45 73.15 L210.62 73.08 L210.79 73.01 L210.97 72.94 L211.14 72.87 L211.31 72.8 L211.48 72.74 L211.66 72.67 L211.83 72.6 L212 72.54 L212.17 72.47 L212.35 72.41 L212.52 72.34 L212.69 72.28 L212.86 72.22 L213.04 72.15 L213.21 72.09 L213.38 72.03 L213.56 71.97 L213.73 71.91 L213.9 71.85 L214.07 71.79 L214.25 71.73 L214.42 71.67 L214.59 71.61 L214.76 71.55 L214.94 71.49 L215.11 71.44 L215.28 71.38 L215.45 71.32 L215.63 71.27 L215.8 71.21 L215.97 71.15 L216.14 71.1 L216.32 71.04 L216.49 70.99 L216.66 70.94 L216.83 70.88 L217.01 70.83 L217.18 70.78 L217.35 70.72 L217.52 70.67 L217.7 70.62 L217.87 70.57 L218.04 70.52 L218.21 70.47 L218.39 70.42 L218.56 70.37 L218.73 70.32 L218.9 70.27 L219.08 70.22 L219.25 70.17 L219.42 70.12 L219.59 70.08 L219.77 70.03 L219.94 69.98 L220.11 69.94 L220.28 69.89 L220.46 69.84 L220.63 69.8 L220.8 69.75 L220.97 69.71 L221.15 69.66 L221.32 69.62 L221.49 69.57 L221.66 69.53 L221.84 69.49 L222.01 69.44 L222.18 69.4 L222.35 69.36 L222.53 69.32 L222.7 69.27" stroke="#f77272"/>
</g>
<line x1="33.6" y1="14.5" x2="57.2" y2="14.5" stroke="#5fc6f5" stroke-width="1.3"/>
<text x="59.8" y="18" font-size="10">CuO</text>
<line x1="33.6" y1="26.9" x2="57.2" y2="26.9" stroke="#2ea6a0" stroke-width="1.3"/>
<text x="59.8" y="30.4" font-size="10">CuO@Pt<tspan font-size="7" dy="2.2">NC</tspan><tspan dy="-2.2">/N-C</tspan></text>
<line x1="33.6" y1="41.5" x2="57.2" y2="41.5" stroke="#f77272" stroke-width="1.3"/>
<text x="59.8" y="45" font-size="10">CuO@Pt<tspan font-size="7" dy="2.2">NC</tspan><tspan dy="-2.2">/Fe-N-C</tspan></text>
<line x1="130.7" y1="14.4" x2="153.4" y2="14.4" stroke="#b07fe6" stroke-width="1.3"/>
<text x="156.4" y="18" font-size="10">CuO@N-C</text>
<line x1="129.5" y1="26.8" x2="153.4" y2="26.8" stroke="#4c78ae" stroke-width="1.3"/>
<text x="156.4" y="30.4" font-size="10">CuO@Fe-N-C</text>
<text x="239.4" y="12.4" font-size="17.5">b</text>
<rect x="271.2" y="7.4" width="188.9" height="152" fill="none" stroke="#333" stroke-width="1.2"/>
<line x1="271.2" y1="159.4" x2="271.2" y2="162.6" stroke="#333" stroke-width="1"/>
<line x1="308.98" y1="159.4" x2="308.98" y2="162.6" stroke="#333" stroke-width="1"/>
<line x1="346.76" y1="159.4" x2="346.76" y2="162.6" stroke="#333" stroke-width="1"/>
<line x1="384.54" y1="159.4" x2="384.54" y2="162.6" stroke="#333" stroke-width="1"/>
<line x1="422.32" y1="159.4" x2="422.32" y2="162.6" stroke="#333" stroke-width="1"/>
<line x1="460.1" y1="159.4" x2="460.1" y2="162.6" stroke="#333" stroke-width="1"/>
<line x1="290.09" y1="159.4" x2="290.09" y2="161.4" stroke="#333" stroke-width="1"/>
<line x1="327.87" y1="159.4" x2="327.87" y2="161.4" stroke="#333" stroke-width="1"/>
<line x1="365.65" y1="159.4" x2="365.65" y2="161.4" stroke="#333" stroke-width="1"/>
<line x1="403.43" y1="159.4" x2="403.43" y2="161.4" stroke="#333" stroke-width="1"/>
<line x1="441.21" y1="159.4" x2="441.21" y2="161.4" stroke="#333" stroke-width="1"/>
<text x="271.2" y="172.8" font-size="10" text-anchor="middle">-0.4</text>
<text x="308.98" y="172.8" font-size="10" text-anchor="middle">-0.3</text>
<text x="346.76" y="172.8" font-size="10" text-anchor="middle">-0.2</text>
<text x="384.54" y="172.8" font-size="10" text-anchor="middle">-0.1</text>
<text x="422.32" y="172.8" font-size="10" text-anchor="middle">0.0</text>
<text x="460.1" y="172.8" font-size="10" text-anchor="middle">0.1</text>
<line x1="271.2" y1="136.54" x2="268.2" y2="136.54" stroke="#333" stroke-width="1"/>
<line x1="271.2" y1="98.47" x2="268.2" y2="98.47" stroke="#333" stroke-width="1"/>
<line x1="271.2" y1="60.4" x2="268.2" y2="60.4" stroke="#333" stroke-width="1"/>
<line x1="271.2" y1="22.33" x2="268.2" y2="22.33" stroke="#333" stroke-width="1"/>
<line x1="271.2" y1="155.57" x2="269.2" y2="155.57" stroke="#333" stroke-width="1"/>
<line x1="271.2" y1="117.5" x2="269.2" y2="117.5" stroke="#333" stroke-width="1"/>
<line x1="271.2" y1="79.44" x2="269.2" y2="79.44" stroke="#333" stroke-width="1"/>
<line x1="271.2" y1="41.36" x2="269.2" y2="41.36" stroke="#333" stroke-width="1"/>
<text x="266.7" y="140.14" font-size="10" text-anchor="end">-100</text>
<text x="266.7" y="102.07" font-size="10" text-anchor="end">-50</text>
<text x="266.7" y="64" font-size="10" text-anchor="end">0</text>
<text x="266.7" y="25.93" font-size="10" text-anchor="end">50</text>
<text x="365.65" y="186.6" font-size="13.2" text-anchor="middle">Potential (V vs. Ag/AgCl)</text>
<text transform="translate(242.1,82) rotate(-90)" font-size="13.2" text-anchor="middle">Photocurrent (μA)</text>
<g fill="none" stroke-width="1.25" stroke-linejoin="round">
<path d="M271.2 83.9 L271.42 83.05 L272.18 80.05 L273.44 79.4 L277.16 80.1 L278.6 81.22 L280 84.48 L281.46 85 L285.24 83.6 L286.57 82.41 L287.53 79.59 L288.84 79.07 L292.56 80.03 L294 80.95 L295.4 83.25 L296.86 83.65 L300.64 82.75 L301.95 81.56 L302.85 78.24 L304.16 77.57 L307.94 78.53 L309.4 79.59 L310.8 82.41 L312.12 82.93 L315.38 81.97 L316.57 80.73 L317.53 77.27 L318.84 76.62 L322.56 77.78 L324 78.75 L325.4 81.05 L326.95 81.43 L331.05 80.47 L332.38 79.28 L333.02 76.02 L334.26 75.32 L338.04 76.08 L339.48 76.82 L340.82 78.68 L342.26 78.73 L346.04 77.07 L347.35 75.86 L348.25 73.24 L349.56 72.66 L353.34 73.24 L354.65 73.58 L355.55 74.22 L357.13 73.73 L361.87 71.37 L363.33 70.12 L363.77 68.08 L364.64 67.5 L367.26 67.5 L368.5 67.82 L370.3 68.98 L371.32 68.9 L373.18 67.5 L374.44 66.58 L377.06 64.72 L377.91 63.66 L378.29 61.74 L378.49 61.6 L378.81 63 L380.07 63.4 L384.23 63.4 L385.8 63.15 L387.2 62.25 L388.52 61.73 L391.78 60.77 L392.84 59.98 L393.36 58.12 L393.63 58.07 L394.07 59.73 L395.51 59.98 L400.19 59.22 L402.83 58.8 L407.57 58.1 L411.01 57.79 L418.49 57.41 L423.23 57.16 L432.57 56.64 L437.83 56.43 L447.17 56.17 L451.6 55.97 L458 55.53 L459.8 55.4" stroke="#b07fe6"/>
<path d="M271.2 121.5 L271.54 120.04 L272.76 114.86 L273.89 113.67 L276.71 114.63 L277.9 115.42 L279.3 117.28 L279.92 118.99 L280.68 123.21 L281.87 124.33 L285.33 124.07 L286.64 122.36 L287.86 116.54 L289.17 115.17 L292.63 116.13 L294 117.84 L295.4 122.96 L296.86 124 L300.64 122.6 L301.95 120.62 L302.85 114.98 L304.16 113.54 L307.94 114.06 L309.32 115.37 L310.48 119.53 L311.79 120.32 L315.31 118.98 L316.7 117.02 L318.1 111.38 L319.56 109.8 L323.34 109.8 L324.74 110.77 L325.96 114.23 L327.27 114.75 L330.73 113.15 L332.04 111.24 L333.26 106.06 L334.7 104.6 L338.6 104.6 L339.97 105.27 L340.93 107.63 L342.26 107.63 L346.04 105.27 L347.35 103.68 L348.25 100.42 L349.69 99.25 L353.91 98.35 L355.32 98.53 L356.08 100.07 L357.27 99.8 L360.73 97.3 L362.02 95.68 L363.18 92.42 L363.95 91.41 L365.55 91.09 L366.36 90.95 L367.64 90.75 L368.5 90.39 L370.3 89.31 L371.32 88.73 L373.18 87.77 L374.49 86.73 L377.31 83.97 L378.26 82.98 L378.84 82.22 L379.11 82.22 L379.49 82.98 L380.64 82.53 L384.36 80.17 L386.23 78.98 L389.17 77.12 L390.63 76.13 L392.87 74.47 L393.77 73.89 L394.73 73.51 L396.17 72.91 L400.33 71.19 L402.83 70.12 L407.57 68.08 L411.53 66.64 L420.87 63.56 L425.61 62.18 L433.09 60.32 L437.83 59.26 L447.17 57.34 L451.6 56.55 L458 55.65 L459.8 55.4" stroke="#4c7ab2"/>
<path d="M271.2 78.4 L271.43 77.79 L272.27 75.61 L272.77 73.38 L273.73 67.62 L274.23 65.14 L275.07 62.06 L276.49 61.27 L280.71 61.53 L282.17 64.17 L283.13 73.33 L284.32 75.63 L287.58 74.67 L288.7 72.17 L289.4 64.23 L289.73 61.6 L290.17 60.2 L291.42 59.93 L295.38 60.37 L296.86 62.61 L298.14 70.09 L299.47 71.8 L302.93 70.4 L304.13 68.38 L304.97 62.62 L305.31 60.59 L305.69 59.11 L306.77 58.84 L310.23 59.36 L311.6 61.26 L313 67.54 L314.44 68.9 L318.16 67.5 L319.4 66 L320.1 62.1 L320.41 60.69 L320.79 59.61 L322.05 59.79 L326.15 61.51 L327.57 63.44 L328.53 68.56 L329.84 70 L333.56 70 L334.74 69.14 L335.26 66.06 L336.44 65.79 L340.16 67.91 L341.72 69.69 L343.58 73.91 L345.04 74.79 L348.36 73.71 L349.43 73.13 L349.87 72.17 L350.36 71.79 L351.64 71.41 L352.68 71.98 L355.12 74.42 L356.86 76.56 L360.64 81.74 L362.55 83.2 L365.55 83.2 L366.69 83.6 L367.71 85 L368.5 85.67 L370.3 86.63 L371.05 87.46 L371.95 89.44 L372.47 91.06 L373.43 94.84 L374.22 96.67 L376.08 99.43 L377.27 100.87 L379.63 103.23 L380.55 103.81 L381.45 103.49 L382.37 104.41 L384.73 107.99 L385.8 109.79 L387.2 112.61 L387.87 114.71 L388.83 119.39 L389.5 121.49 L390.9 124.31 L391.82 125.89 L393.68 128.71 L394.6 129.19 L396 128.11 L396.8 128.05 L398.2 128.95 L399.27 129.4 L401.63 130.1 L402.7 131.09 L404.1 133.91 L405.02 134.56 L406.88 134.04 L407.92 133.5 L409.78 132.1 L410.57 130.78 L411.53 127.52 L412.32 126.2 L414.18 124.8 L415.22 123.88 L417.08 122.02 L418 121.63 L419.4 122.07 L420.74 120.89 L424.06 116.21 L425.4 113.84 L426.8 110.06 L427.85 107.96 L430.15 104.24 L431.32 102.53 L433.18 100.17 L433.93 99.59 L434.77 99.91 L435.56 98.96 L437.54 95.24 L438.62 93.44 L440.48 90.76 L441.27 89.44 L442.23 87.46 L443.56 84.78 L447.34 77.22 L449.05 74.09 L451.35 70.51 L452.67 68.55 L455.03 65.15 L456.44 62.35 L459.06 55.75 L459.8 53.9" stroke="#f77272"/>
</g>
<line x1="346.8" y1="14.8" x2="369.2" y2="14.8" stroke="#b07fe6" stroke-width="1.3"/>
<text x="372.4" y="18.3" font-size="10">CuO</text>
<line x1="346.8" y1="26.8" x2="369.2" y2="26.8" stroke="#4c7ab2" stroke-width="1.3"/>
<text x="372.4" y="30.4" font-size="10">CuO@Fe-N-C</text>
<line x1="346.8" y1="39.2" x2="369.2" y2="39.2" stroke="#f77272" stroke-width="1.3"/>
<text x="372.4" y="42.8" font-size="10">CuO@Pt<tspan font-size="7" dy="2.2">NC</tspan><tspan dy="-2.2">/Fe-N-C</tspan></text>
<text x="476.6" y="13" font-size="17.5">c</text>
<rect x="491.2" y="7.4" width="190.5" height="152" fill="none" stroke="#333" stroke-width="1.2"/>
<line x1="491.2" y1="159.4" x2="491.2" y2="162.6" stroke="#333" stroke-width="1"/>
<line x1="538.83" y1="159.4" x2="538.83" y2="162.6" stroke="#333" stroke-width="1"/>
<line x1="586.45" y1="159.4" x2="586.45" y2="162.6" stroke="#333" stroke-width="1"/>
<line x1="634.08" y1="159.4" x2="634.08" y2="162.6" stroke="#333" stroke-width="1"/>
<line x1="681.7" y1="159.4" x2="681.7" y2="162.6" stroke="#333" stroke-width="1"/>
<line x1="515.01" y1="159.4" x2="515.01" y2="161.4" stroke="#333" stroke-width="1"/>
<line x1="562.64" y1="159.4" x2="562.64" y2="161.4" stroke="#333" stroke-width="1"/>
<line x1="610.26" y1="159.4" x2="610.26" y2="161.4" stroke="#333" stroke-width="1"/>
<line x1="657.89" y1="159.4" x2="657.89" y2="161.4" stroke="#333" stroke-width="1"/>
<text x="491.2" y="172.8" font-size="10" text-anchor="middle">0</text>
<text x="538.83" y="172.8" font-size="10" text-anchor="middle">5</text>
<text x="586.45" y="172.8" font-size="10" text-anchor="middle">10</text>
<text x="634.08" y="172.8" font-size="10" text-anchor="middle">15</text>
<text x="681.7" y="172.8" font-size="10" text-anchor="middle">20</text>
<text x="586.45" y="186.6" font-size="13.2" text-anchor="middle">Binding Energy (eV)</text>
<text transform="translate(485,84.7) rotate(-90)" font-size="13.2" text-anchor="middle">Intensity (arb. u.)</text>
<text x="495.8" y="21.2" font-size="10">Pt<tspan font-size="7" dy="2.2">NC</tspan><tspan dy="-2.2">/Fe-N-C</tspan></text>
<path d="M491.2 146.6 L502.6 143.7 L513.6 140.8 L519 138 L525.3 134.5 L530 133.6 L536.3 132 L546.6 126.9 L555.3 120.3 L567.1 111.5 L575.8 106.4 L582 102.5 L589.9 97.6 L598.6 90.3 L604.5 83 L610.4 72 L614.7 59.5 L620.6 39.8 L623.5 36.8 L625.5 37 L627.9 35.8 L630.9 38.3 L633 44.2 L635.2 58.1 L637.4 90 L638.9 97.6 L640.4 114.9 L642.6 136.1 L644.8 136.6 L646.7 147.2 L681.2 147.2" fill="none" stroke="#f43a3a" stroke-width="1.25" stroke-linejoin="round"/>
<line x1="491.2" y1="147.3" x2="681.2" y2="147.3" stroke="#222" stroke-width="1.1" stroke-dasharray="3.2 2"/>
<line x1="628.7" y1="7.4" x2="644.5" y2="147.3" stroke="#222" stroke-width="1.1" stroke-dasharray="3.2 2"/>
<line x1="644" y1="147" x2="614.5" y2="126.2" stroke="#5bbff0" stroke-width="1.3"/>
<path d="M611.1 124 L618.6 125.6 L614.6 131.2 Z" fill="#5bbff0" transform=""/>
<text x="564.4" y="121.6" font-size="10"><tspan font-style="italic">E</tspan><tspan font-size="7" dy="2.2">cutoff</tspan><tspan dy="-2.2">=16.11 eV</tspan></text>
</svg>
</body></html>
